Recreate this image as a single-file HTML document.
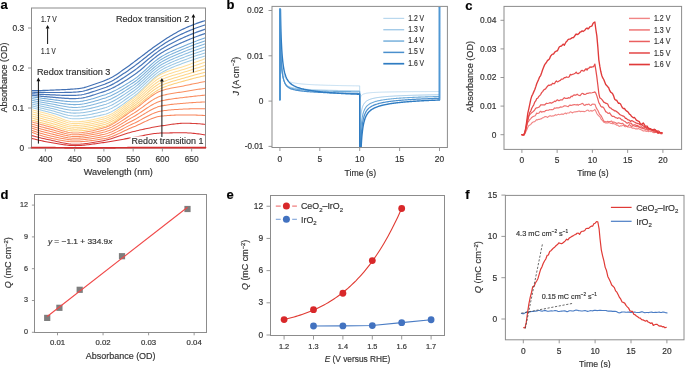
<!DOCTYPE html>
<html><head><meta charset="utf-8"><style>
html,body{margin:0;padding:0;background:#fff;}
svg{display:block;}
text{font-family:"Liberation Sans",sans-serif;fill:#333;stroke:#333;stroke-width:0.18px;}
.g{opacity:0.999;}
</style></head><body>
<svg width="685" height="368" viewBox="0 0 685 368">
<rect width="685" height="368" fill="#fff"/>
<g class="g">
<text x="0.40" y="9.20" font-size="13" style="fill:#000;stroke:#000" font-weight="bold">a</text>
<text x="226.60" y="9.20" font-size="13" style="fill:#000;stroke:#000" font-weight="bold">b</text>
<text x="465.30" y="9.70" font-size="13" style="fill:#000;stroke:#000" font-weight="bold">c</text>
<text x="0.40" y="198.60" font-size="13" style="fill:#000;stroke:#000" font-weight="bold">d</text>
<text x="226.60" y="198.60" font-size="13" style="fill:#000;stroke:#000" font-weight="bold">e</text>
<text x="465.30" y="198.60" font-size="13" style="fill:#000;stroke:#000" font-weight="bold">f</text>
<clipPath id="ca"><rect x="31.5" y="8.0" width="174.00" height="140.00"/></clipPath>
<g clip-path="url(#ca)">
<polyline points="31.50,90.70 32.96,90.69 34.42,90.67 35.89,90.64 37.35,90.61 38.81,90.58 40.27,90.54 41.74,90.50 43.20,90.46 44.66,90.41 46.12,90.36 47.58,90.31 49.05,90.26 50.51,90.20 51.97,90.14 53.43,90.08 54.89,90.02 56.36,89.96 57.82,89.90 59.28,89.83 60.74,89.77 62.21,89.70 63.67,89.63 65.13,89.56 66.59,89.48 68.05,89.40 69.52,89.31 70.98,89.21 72.44,89.11 73.90,89.00 75.37,88.87 76.83,88.74 78.29,88.59 79.75,88.43 81.21,88.23 82.68,87.95 84.14,87.60 85.60,87.20 87.06,86.74 88.53,86.26 89.99,85.75 91.45,85.23 92.91,84.72 94.37,84.21 95.84,83.72 97.30,83.24 98.76,82.74 100.22,82.24 101.68,81.72 103.15,81.19 104.61,80.63 106.07,80.04 107.53,79.42 109.00,78.77 110.46,78.08 111.92,77.31 113.38,76.48 114.84,75.59 116.31,74.64 117.77,73.66 119.23,72.65 120.69,71.63 122.16,70.59 123.62,69.56 125.08,68.54 126.54,67.52 128.00,66.47 129.47,65.41 130.93,64.33 132.39,63.23 133.85,62.13 135.32,61.02 136.78,59.92 138.24,58.82 139.70,57.72 141.16,56.63 142.63,55.53 144.09,54.42 145.55,53.31 147.01,52.20 148.47,51.09 149.94,49.99 151.40,48.90 152.86,47.83 154.32,46.78 155.79,45.75 157.25,44.72 158.71,43.70 160.17,42.69 161.63,41.68 163.10,40.70 164.56,39.73 166.02,38.77 167.48,37.84 168.95,36.94 170.41,36.06 171.87,35.19 173.33,34.33 174.79,33.49 176.26,32.66 177.72,31.85 179.18,31.06 180.64,30.29 182.11,29.56 183.57,28.86 185.03,28.19 186.49,27.54 187.95,26.91 189.42,26.29 190.88,25.68 192.34,25.08 193.80,24.50 195.26,23.94 196.73,23.40 198.19,22.87 199.65,22.36 201.11,21.88 202.58,21.41 204.04,20.97 205.50,20.56" fill="none" stroke="#4270b4" stroke-width="1.2" stroke-linejoin="round" stroke-linecap="round" />
<polyline points="31.50,92.20 32.96,92.24 34.42,92.28 35.89,92.32 37.35,92.36 38.81,92.39 40.27,92.41 41.74,92.43 43.20,92.45 44.66,92.47 46.12,92.48 47.58,92.49 49.05,92.49 50.51,92.49 51.97,92.49 53.43,92.50 54.89,92.50 56.36,92.50 57.82,92.50 59.28,92.50 60.74,92.50 62.21,92.50 63.67,92.49 65.13,92.47 66.59,92.45 68.05,92.42 69.52,92.38 70.98,92.33 72.44,92.27 73.90,92.20 75.37,92.10 76.83,91.99 78.29,91.86 79.75,91.70 81.21,91.51 82.68,91.24 84.14,90.91 85.60,90.54 87.06,90.11 88.53,89.66 89.99,89.18 91.45,88.69 92.91,88.20 94.37,87.71 95.84,87.23 97.30,86.75 98.76,86.26 100.22,85.76 101.68,85.25 103.15,84.73 104.61,84.20 106.07,83.63 107.53,83.03 109.00,82.40 110.46,81.72 111.92,80.98 113.38,80.19 114.84,79.34 116.31,78.45 117.77,77.52 119.23,76.57 120.69,75.59 122.16,74.61 123.62,73.62 125.08,72.64 126.54,71.65 128.00,70.64 129.47,69.61 130.93,68.57 132.39,67.52 133.85,66.46 135.32,65.37 136.78,64.27 138.24,63.16 139.70,62.03 141.16,60.90 142.63,59.75 144.09,58.59 145.55,57.42 147.01,56.25 148.47,55.09 149.94,53.93 151.40,52.78 152.86,51.66 154.32,50.56 155.79,49.48 157.25,48.43 158.71,47.39 160.17,46.38 161.63,45.39 163.10,44.44 164.56,43.51 166.02,42.60 167.48,41.71 168.95,40.85 170.41,40.02 171.87,39.20 173.33,38.39 174.79,37.59 176.26,36.81 177.72,36.05 179.18,35.30 180.64,34.57 182.11,33.87 183.57,33.19 185.03,32.53 186.49,31.89 187.95,31.27 189.42,30.65 190.88,30.05 192.34,29.46 193.80,28.88 195.26,28.31 196.73,27.76 198.19,27.23 199.65,26.72 201.11,26.22 202.58,25.74 204.04,25.27 205.50,24.83" fill="none" stroke="#4573b6" stroke-width="1.2" stroke-linejoin="round" stroke-linecap="round" />
<polyline points="31.50,93.69 32.96,93.80 34.42,93.90 35.89,94.00 37.35,94.10 38.81,94.19 40.27,94.28 41.74,94.36 43.20,94.44 44.66,94.52 46.12,94.59 47.58,94.66 49.05,94.72 50.51,94.78 51.97,94.84 53.43,94.91 54.89,94.97 56.36,95.04 57.82,95.11 59.28,95.17 60.74,95.23 62.21,95.29 63.67,95.34 65.13,95.39 66.59,95.42 68.05,95.45 69.52,95.46 70.98,95.45 72.44,95.43 73.90,95.39 75.37,95.34 76.83,95.25 78.29,95.13 79.75,94.98 81.21,94.79 82.68,94.53 84.14,94.23 85.60,93.88 87.06,93.48 88.53,93.06 89.99,92.62 91.45,92.15 92.91,91.68 94.37,91.20 95.84,90.73 97.30,90.26 98.76,89.77 100.22,89.28 101.68,88.79 103.15,88.28 104.61,87.76 106.07,87.22 107.53,86.64 109.00,86.02 110.46,85.36 111.92,84.65 113.38,83.90 114.84,83.09 116.31,82.25 117.77,81.38 119.23,80.48 120.69,79.56 122.16,78.62 123.62,77.68 125.08,76.73 126.54,75.78 128.00,74.81 129.47,73.82 130.93,72.82 132.39,71.81 133.85,70.79 135.32,69.72 136.78,68.63 138.24,67.50 139.70,66.34 141.16,65.17 142.63,63.98 144.09,62.76 145.55,61.54 147.01,60.31 148.47,59.08 149.94,57.87 151.40,56.67 152.86,55.49 154.32,54.34 155.79,53.22 157.25,52.13 158.71,51.08 160.17,50.07 161.63,49.10 163.10,48.18 164.56,47.29 166.02,46.42 167.48,45.58 168.95,44.76 170.41,43.97 171.87,43.20 173.33,42.44 174.79,41.69 176.26,40.96 177.72,40.25 179.18,39.54 180.64,38.85 182.11,38.18 183.57,37.52 185.03,36.88 186.49,36.25 187.95,35.63 189.42,35.02 190.88,34.42 192.34,33.83 193.80,33.25 195.26,32.69 196.73,32.13 198.19,31.59 199.65,31.07 201.11,30.56 202.58,30.06 204.04,29.58 205.50,29.11" fill="none" stroke="#4977b9" stroke-width="1.2" stroke-linejoin="round" stroke-linecap="round" />
<polyline points="31.50,95.19 32.96,95.36 34.42,95.52 35.89,95.69 37.35,95.84 38.81,96.00 40.27,96.15 41.74,96.30 43.20,96.44 44.66,96.57 46.12,96.71 47.58,96.83 49.05,96.95 50.51,97.07 51.97,97.19 53.43,97.32 54.89,97.45 56.36,97.58 57.82,97.71 59.28,97.84 60.74,97.97 62.21,98.09 63.67,98.20 65.13,98.30 66.59,98.39 68.05,98.47 69.52,98.53 70.98,98.57 72.44,98.59 73.90,98.59 75.37,98.57 76.83,98.50 78.29,98.40 79.75,98.25 81.21,98.06 82.68,97.83 84.14,97.54 85.60,97.22 87.06,96.85 88.53,96.46 89.99,96.05 91.45,95.61 92.91,95.16 94.37,94.70 95.84,94.24 97.30,93.77 98.76,93.29 100.22,92.80 101.68,92.32 103.15,91.83 104.61,91.33 106.07,90.81 107.53,90.24 109.00,89.64 110.46,89.01 111.92,88.33 113.38,87.60 114.84,86.85 116.31,86.05 117.77,85.23 119.23,84.39 120.69,83.52 122.16,82.63 123.62,81.74 125.08,80.83 126.54,79.91 128.00,78.97 129.47,78.02 130.93,77.07 132.39,76.10 133.85,75.11 135.32,74.07 136.78,72.98 138.24,71.84 139.70,70.66 141.16,69.44 142.63,68.20 144.09,66.93 145.55,65.65 147.01,64.37 148.47,63.08 149.94,61.81 151.40,60.55 152.86,59.32 154.32,58.11 155.79,56.95 157.25,55.84 158.71,54.77 160.17,53.76 161.63,52.81 163.10,51.92 164.56,51.07 166.02,50.24 167.48,49.45 168.95,48.68 170.41,47.93 171.87,47.21 173.33,46.49 174.79,45.80 176.26,45.12 177.72,44.44 179.18,43.78 180.64,43.13 182.11,42.49 183.57,41.85 185.03,41.22 186.49,40.60 187.95,39.99 189.42,39.38 190.88,38.79 192.34,38.20 193.80,37.63 195.26,37.06 196.73,36.50 198.19,35.95 199.65,35.42 201.11,34.89 202.58,34.38 204.04,33.88 205.50,33.39" fill="none" stroke="#4c7abb" stroke-width="1.2" stroke-linejoin="round" stroke-linecap="round" />
<polyline points="31.50,96.68 32.96,96.92 34.42,97.14 35.89,97.37 37.35,97.59 38.81,97.81 40.27,98.02 41.74,98.23 43.20,98.43 44.66,98.63 46.12,98.82 47.58,99.01 49.05,99.19 50.51,99.36 51.97,99.54 53.43,99.73 54.89,99.92 56.36,100.12 57.82,100.32 59.28,100.51 60.74,100.70 62.21,100.88 63.67,101.06 65.13,101.22 66.59,101.36 68.05,101.49 69.52,101.60 70.98,101.69 72.44,101.75 73.90,101.79 75.37,101.80 76.83,101.76 78.29,101.67 79.75,101.53 81.21,101.34 82.68,101.12 84.14,100.85 85.60,100.56 87.06,100.22 88.53,99.86 89.99,99.48 91.45,99.07 92.91,98.64 94.37,98.20 95.84,97.74 97.30,97.28 98.76,96.80 100.22,96.33 101.68,95.85 103.15,95.37 104.61,94.90 106.07,94.40 107.53,93.85 109.00,93.27 110.46,92.65 111.92,92.00 113.38,91.31 114.84,90.60 116.31,89.86 117.77,89.09 119.23,88.30 120.69,87.48 122.16,86.65 123.62,85.79 125.08,84.92 126.54,84.04 128.00,83.14 129.47,82.23 130.93,81.31 132.39,80.39 133.85,79.44 135.32,78.42 136.78,77.33 138.24,76.18 139.70,74.97 141.16,73.71 142.63,72.42 144.09,71.10 145.55,69.77 147.01,68.42 148.47,67.08 149.94,65.75 151.40,64.43 152.86,63.14 154.32,61.89 155.79,60.69 157.25,59.54 158.71,58.46 160.17,57.45 161.63,56.52 163.10,55.67 164.56,54.85 166.02,54.07 167.48,53.32 168.95,52.59 170.41,51.89 171.87,51.21 173.33,50.55 174.79,49.90 176.26,49.27 177.72,48.64 179.18,48.03 180.64,47.41 182.11,46.80 183.57,46.18 185.03,45.57 186.49,44.95 187.95,44.35 189.42,43.75 190.88,43.16 192.34,42.58 193.80,42.00 195.26,41.43 196.73,40.87 198.19,40.32 199.65,39.77 201.11,39.23 202.58,38.70 204.04,38.18 205.50,37.67" fill="none" stroke="#72aad8" stroke-width="1.05" stroke-linejoin="round" stroke-linecap="round" />
<polyline points="31.50,98.50 32.96,98.76 34.42,99.01 35.89,99.26 37.35,99.51 38.81,99.75 40.27,99.99 41.74,100.23 43.20,100.46 44.66,100.69 46.12,100.92 47.58,101.13 49.05,101.35 50.51,101.56 51.97,101.78 53.43,102.01 54.89,102.25 56.36,102.49 57.82,102.74 59.28,102.98 60.74,103.22 62.21,103.46 63.67,103.68 65.13,103.88 66.59,104.07 68.05,104.24 69.52,104.38 70.98,104.49 72.44,104.57 73.90,104.62 75.37,104.63 76.83,104.59 78.29,104.51 79.75,104.38 81.21,104.21 82.68,104.00 84.14,103.76 85.60,103.48 87.06,103.17 88.53,102.83 89.99,102.47 91.45,102.09 92.91,101.69 94.37,101.27 95.84,100.84 97.30,100.40 98.76,99.95 100.22,99.50 101.68,99.05 103.15,98.60 104.61,98.14 106.07,97.65 107.53,97.11 109.00,96.52 110.46,95.90 111.92,95.23 113.38,94.53 114.84,93.79 116.31,93.03 117.77,92.23 119.23,91.41 120.69,90.56 122.16,89.69 123.62,88.80 125.08,87.90 126.54,86.98 128.00,86.05 129.47,85.12 130.93,84.17 132.39,83.23 133.85,82.27 135.32,81.23 136.78,80.12 138.24,78.95 139.70,77.73 141.16,76.46 142.63,75.16 144.09,73.83 145.55,72.48 147.01,71.13 148.47,69.78 149.94,68.44 151.40,67.11 152.86,65.82 154.32,64.57 155.79,63.36 157.25,62.21 158.71,61.13 160.17,60.12 161.63,59.20 163.10,58.35 164.56,57.54 166.02,56.77 167.48,56.02 168.95,55.31 170.41,54.61 171.87,53.94 173.33,53.29 174.79,52.65 176.26,52.03 177.72,51.41 179.18,50.80 180.64,50.20 182.11,49.60 183.57,49.00 185.03,48.39 186.49,47.79 187.95,47.20 189.42,46.62 190.88,46.04 192.34,45.47 193.80,44.91 195.26,44.36 196.73,43.81 198.19,43.27 199.65,42.75 201.11,42.23 202.58,41.71 204.04,41.21 205.50,40.72" fill="none" stroke="#7ab0da" stroke-width="1.05" stroke-linejoin="round" stroke-linecap="round" />
<polyline points="31.50,100.31 32.96,100.60 34.42,100.88 35.89,101.15 37.35,101.43 38.81,101.70 40.27,101.97 41.74,102.24 43.20,102.50 44.66,102.76 46.12,103.01 47.58,103.26 49.05,103.51 50.51,103.75 51.97,104.01 53.43,104.28 54.89,104.57 56.36,104.86 57.82,105.16 59.28,105.45 60.74,105.75 62.21,106.03 63.67,106.30 65.13,106.55 66.59,106.78 68.05,106.98 69.52,107.15 70.98,107.29 72.44,107.39 73.90,107.45 75.37,107.47 76.83,107.43 78.29,107.35 79.75,107.23 81.21,107.08 82.68,106.88 84.14,106.66 85.60,106.40 87.06,106.11 88.53,105.80 89.99,105.46 91.45,105.11 92.91,104.73 94.37,104.34 95.84,103.94 97.30,103.53 98.76,103.10 100.22,102.68 101.68,102.25 103.15,101.82 104.61,101.38 106.07,100.90 107.53,100.37 109.00,99.78 110.46,99.15 111.92,98.47 113.38,97.75 114.84,96.99 116.31,96.19 117.77,95.37 119.23,94.51 120.69,93.63 122.16,92.73 123.62,91.81 125.08,90.87 126.54,89.93 128.00,88.97 129.47,88.00 130.93,87.04 132.39,86.07 133.85,85.09 135.32,84.04 136.78,82.92 138.24,81.73 139.70,80.49 141.16,79.21 142.63,77.90 144.09,76.55 145.55,75.20 147.01,73.83 148.47,72.47 149.94,71.12 151.40,69.80 152.86,68.50 154.32,67.24 155.79,66.04 157.25,64.89 158.71,63.80 160.17,62.80 161.63,61.88 163.10,61.04 164.56,60.24 166.02,59.47 167.48,58.73 168.95,58.02 170.41,57.33 171.87,56.67 173.33,56.03 174.79,55.40 176.26,54.78 177.72,54.18 179.18,53.58 180.64,52.99 182.11,52.40 183.57,51.81 185.03,51.22 186.49,50.63 187.95,50.06 189.42,49.49 190.88,48.92 192.34,48.37 193.80,47.82 195.26,47.28 196.73,46.75 198.19,46.23 199.65,45.72 201.11,45.22 202.58,44.72 204.04,44.24 205.50,43.76" fill="none" stroke="#82b6dd" stroke-width="1.05" stroke-linejoin="round" stroke-linecap="round" />
<polyline points="31.50,102.13 32.96,102.44 34.42,102.74 35.89,103.05 37.35,103.35 38.81,103.65 40.27,103.95 41.74,104.24 43.20,104.53 44.66,104.82 46.12,105.11 47.58,105.39 49.05,105.67 50.51,105.95 51.97,106.24 53.43,106.56 54.89,106.89 56.36,107.23 57.82,107.58 59.28,107.93 60.74,108.27 62.21,108.60 63.67,108.91 65.13,109.21 66.59,109.48 68.05,109.72 69.52,109.93 70.98,110.09 72.44,110.21 73.90,110.28 75.37,110.30 76.83,110.27 78.29,110.20 79.75,110.09 81.21,109.94 82.68,109.76 84.14,109.56 85.60,109.32 87.06,109.05 88.53,108.77 89.99,108.46 91.45,108.13 92.91,107.78 94.37,107.41 95.84,107.04 97.30,106.65 98.76,106.26 100.22,105.85 101.68,105.45 103.15,105.04 104.61,104.62 106.07,104.16 107.53,103.63 109.00,103.04 110.46,102.40 111.92,101.70 113.38,100.96 114.84,100.18 116.31,99.36 117.77,98.51 119.23,97.62 120.69,96.71 122.16,95.78 123.62,94.82 125.08,93.85 126.54,92.87 128.00,91.88 129.47,90.89 130.93,89.90 132.39,88.91 133.85,87.91 135.32,86.85 136.78,85.71 138.24,84.51 139.70,83.26 141.16,81.96 142.63,80.63 144.09,79.28 145.55,77.91 147.01,76.54 148.47,75.17 149.94,73.81 151.40,72.48 152.86,71.18 154.32,69.92 155.79,68.71 157.25,67.56 158.71,66.48 160.17,65.48 161.63,64.56 163.10,63.73 164.56,62.93 166.02,62.17 167.48,61.44 168.95,60.73 170.41,60.06 171.87,59.40 173.33,58.76 174.79,58.14 176.26,57.54 177.72,56.94 179.18,56.36 180.64,55.78 182.11,55.20 183.57,54.62 185.03,54.04 186.49,53.47 187.95,52.91 189.42,52.35 190.88,51.81 192.34,51.27 193.80,50.73 195.26,50.21 196.73,49.70 198.19,49.19 199.65,48.70 201.11,48.21 202.58,47.73 204.04,47.27 205.50,46.81" fill="none" stroke="#8abce0" stroke-width="1.05" stroke-linejoin="round" stroke-linecap="round" />
<polyline points="31.50,103.94 32.96,104.28 34.42,104.61 35.89,104.94 37.35,105.27 38.81,105.60 40.27,105.92 41.74,106.24 43.20,106.57 44.66,106.89 46.12,107.20 47.58,107.52 49.05,107.83 50.51,108.14 51.97,108.48 53.43,108.84 54.89,109.21 56.36,109.60 57.82,110.00 59.28,110.40 60.74,110.79 62.21,111.17 63.67,111.53 65.13,111.88 66.59,112.19 68.05,112.47 69.52,112.70 70.98,112.89 72.44,113.03 73.90,113.11 75.37,113.13 76.83,113.10 78.29,113.04 79.75,112.94 81.21,112.81 82.68,112.65 84.14,112.46 85.60,112.24 87.06,112.00 88.53,111.73 89.99,111.45 91.45,111.14 92.91,110.82 94.37,110.49 95.84,110.14 97.30,109.78 98.76,109.41 100.22,109.03 101.68,108.65 103.15,108.26 104.61,107.87 106.07,107.41 107.53,106.88 109.00,106.29 110.46,105.64 111.92,104.94 113.38,104.18 114.84,103.38 116.31,102.53 117.77,101.65 119.23,100.73 120.69,99.79 122.16,98.82 123.62,97.83 125.08,96.83 126.54,95.81 128.00,94.80 129.47,93.78 130.93,92.76 132.39,91.75 133.85,90.74 135.32,89.65 136.78,88.50 138.24,87.28 139.70,86.02 141.16,84.71 142.63,83.37 144.09,82.00 145.55,80.63 147.01,79.24 148.47,77.87 149.94,76.50 151.40,75.16 152.86,73.86 154.32,72.59 155.79,71.38 157.25,70.23 158.71,69.15 160.17,68.15 161.63,67.25 163.10,66.42 164.56,65.63 166.02,64.87 167.48,64.15 168.95,63.45 170.41,62.78 171.87,62.13 173.33,61.50 174.79,60.89 176.26,60.29 177.72,59.71 179.18,59.13 180.64,58.57 182.11,58.00 183.57,57.43 185.03,56.87 186.49,56.31 187.95,55.76 189.42,55.22 190.88,54.69 192.34,54.16 193.80,53.65 195.26,53.14 196.73,52.64 198.19,52.15 199.65,51.67 201.11,51.20 202.58,50.74 204.04,50.30 205.50,49.86" fill="none" stroke="#92c1e2" stroke-width="1.05" stroke-linejoin="round" stroke-linecap="round" />
<polyline points="31.50,105.76 32.96,106.12 34.42,106.48 35.89,106.83 37.35,107.19 38.81,107.54 40.27,107.90 41.74,108.25 43.20,108.60 44.66,108.95 46.12,109.30 47.58,109.65 49.05,109.99 50.51,110.34 51.97,110.71 53.43,111.11 54.89,111.54 56.36,111.97 57.82,112.42 59.28,112.87 60.74,113.31 62.21,113.74 63.67,114.15 65.13,114.54 66.59,114.89 68.05,115.21 69.52,115.48 70.98,115.70 72.44,115.85 73.90,115.95 75.37,115.97 76.83,115.94 78.29,115.88 79.75,115.79 81.21,115.68 82.68,115.53 84.14,115.36 85.60,115.16 87.06,114.94 88.53,114.70 89.99,114.44 91.45,114.16 92.91,113.87 94.37,113.56 95.84,113.24 97.30,112.90 98.76,112.56 100.22,112.20 101.68,111.85 103.15,111.48 104.61,111.11 106.07,110.66 107.53,110.14 109.00,109.55 110.46,108.89 111.92,108.17 113.38,107.40 114.84,106.57 116.31,105.70 117.77,104.79 119.23,103.84 120.69,102.86 122.16,101.86 123.62,100.84 125.08,99.80 126.54,98.76 128.00,97.71 129.47,96.66 130.93,95.62 132.39,94.59 133.85,93.56 135.32,92.46 136.78,91.29 138.24,90.06 139.70,88.78 141.16,87.46 142.63,86.11 144.09,84.73 145.55,83.34 147.01,81.95 148.47,80.56 149.94,79.19 151.40,77.85 152.86,76.54 154.32,75.27 155.79,74.06 157.25,72.91 158.71,71.83 160.17,70.83 161.63,69.93 163.10,69.10 164.56,68.32 166.02,67.57 167.48,66.85 168.95,66.16 170.41,65.50 171.87,64.86 173.33,64.24 174.79,63.64 176.26,63.05 177.72,62.48 179.18,61.91 180.64,61.35 182.11,60.80 183.57,60.25 185.03,59.70 186.49,59.15 187.95,58.62 189.42,58.09 190.88,57.57 192.34,57.06 193.80,56.56 195.26,56.07 196.73,55.58 198.19,55.11 199.65,54.65 201.11,54.20 202.58,53.76 204.04,53.33 205.50,52.91" fill="none" stroke="#9ac7e4" stroke-width="1.05" stroke-linejoin="round" stroke-linecap="round" />
<polyline points="31.50,107.57 32.96,107.96 34.42,108.34 35.89,108.73 37.35,109.11 38.81,109.49 40.27,109.87 41.74,110.25 43.20,110.64 44.66,111.02 46.12,111.40 47.58,111.77 49.05,112.15 50.51,112.53 51.97,112.95 53.43,113.39 54.89,113.86 56.36,114.34 57.82,114.84 59.28,115.34 60.74,115.83 62.21,116.31 63.67,116.77 65.13,117.20 66.59,117.60 68.05,117.95 69.52,118.25 70.98,118.50 72.44,118.67 73.90,118.78 75.37,118.80 76.83,118.78 78.29,118.73 79.75,118.65 81.21,118.54 82.68,118.41 84.14,118.26 85.60,118.08 87.06,117.88 88.53,117.67 89.99,117.43 91.45,117.18 92.91,116.91 94.37,116.63 95.84,116.33 97.30,116.03 98.76,115.71 100.22,115.38 101.68,115.04 103.15,114.70 104.61,114.35 106.07,113.92 107.53,113.40 109.00,112.81 110.46,112.14 111.92,111.41 113.38,110.62 114.84,109.77 116.31,108.87 117.77,107.93 119.23,106.95 120.69,105.94 122.16,104.90 123.62,103.85 125.08,102.78 126.54,101.70 128.00,100.62 129.47,99.55 130.93,98.48 132.39,97.43 133.85,96.38 135.32,95.27 136.78,94.08 138.24,92.84 139.70,91.54 141.16,90.21 142.63,88.84 144.09,87.45 145.55,86.06 147.01,84.65 148.47,83.26 149.94,81.88 151.40,80.53 152.86,79.22 154.32,77.95 155.79,76.73 157.25,75.58 158.71,74.50 160.17,73.51 161.63,72.61 163.10,71.79 164.56,71.01 166.02,70.27 167.48,69.56 168.95,68.88 170.41,68.22 171.87,67.59 173.33,66.98 174.79,66.38 176.26,65.81 177.72,65.24 179.18,64.69 180.64,64.14 182.11,63.60 183.57,63.06 185.03,62.52 186.49,61.99 187.95,61.47 189.42,60.96 190.88,60.45 192.34,59.96 193.80,59.47 195.26,58.99 196.73,58.53 198.19,58.07 199.65,57.62 201.11,57.19 202.58,56.77 204.04,56.35 205.50,55.95" fill="none" stroke="#a2cde7" stroke-width="1.05" stroke-linejoin="round" stroke-linecap="round" />
<polyline points="31.50,109.68 32.96,110.04 34.42,110.40 35.89,110.77 37.35,111.15 38.81,111.52 40.27,111.90 41.74,112.28 43.20,112.67 44.66,113.05 46.12,113.45 47.58,113.84 49.05,114.24 50.51,114.64 51.97,115.09 53.43,115.58 54.89,116.10 56.36,116.65 57.82,117.21 59.28,117.78 60.74,118.35 62.21,118.90 63.67,119.43 65.13,119.93 66.59,120.39 68.05,120.81 69.52,121.16 70.98,121.44 72.44,121.65 73.90,121.77 75.37,121.80 76.83,121.77 78.29,121.72 79.75,121.63 81.21,121.51 82.68,121.36 84.14,121.19 85.60,120.99 87.06,120.77 88.53,120.53 89.99,120.26 91.45,119.98 92.91,119.68 94.37,119.36 95.84,119.03 97.30,118.69 98.76,118.34 100.22,117.97 101.68,117.60 103.15,117.22 104.61,116.83 106.07,116.36 107.53,115.81 109.00,115.17 110.46,114.46 111.92,113.68 113.38,112.84 114.84,111.94 116.31,110.99 117.77,110.00 119.23,108.97 120.69,107.91 122.16,106.82 123.62,105.72 125.08,104.60 126.54,103.48 128.00,102.36 129.47,101.24 130.93,100.13 132.39,99.05 133.85,97.96 135.32,96.80 136.78,95.57 138.24,94.27 139.70,92.92 141.16,91.53 142.63,90.11 144.09,88.67 145.55,87.22 147.01,85.77 148.47,84.34 149.94,82.94 151.40,81.57 152.86,80.25 154.32,78.99 155.79,77.80 157.25,76.69 158.71,75.68 160.17,74.77 161.63,73.98 163.10,73.29 164.56,72.66 166.02,72.07 167.48,71.52 168.95,71.00 170.41,70.51 171.87,70.05 173.33,69.60 174.79,69.16 176.26,68.73 177.72,68.29 179.18,67.86 180.64,67.41 182.11,66.94 183.57,66.45 185.03,65.94 186.49,65.43 187.95,64.91 189.42,64.39 190.88,63.87 192.34,63.35 193.80,62.83 195.26,62.30 196.73,61.77 198.19,61.25 199.65,60.71 201.11,60.18 202.58,59.65 204.04,59.11 205.50,58.57" fill="none" stroke="#fedf9c" stroke-width="1.05" stroke-linejoin="round" stroke-linecap="round" />
<polyline points="31.50,111.73 32.96,112.11 34.42,112.48 35.89,112.86 37.35,113.24 38.81,113.62 40.27,114.01 41.74,114.39 43.20,114.78 44.66,115.17 46.12,115.56 47.58,115.95 49.05,116.34 50.51,116.74 51.97,117.18 53.43,117.65 54.89,118.16 56.36,118.69 57.82,119.24 59.28,119.78 60.74,120.33 62.21,120.86 63.67,121.37 65.13,121.85 66.59,122.30 68.05,122.69 69.52,123.03 70.98,123.30 72.44,123.50 73.90,123.61 75.37,123.64 76.83,123.61 78.29,123.56 79.75,123.47 81.21,123.35 82.68,123.21 84.14,123.04 85.60,122.84 87.06,122.62 88.53,122.38 89.99,122.12 91.45,121.84 92.91,121.55 94.37,121.24 95.84,120.91 97.30,120.57 98.76,120.22 100.22,119.86 101.68,119.49 103.15,119.12 104.61,118.73 106.07,118.27 107.53,117.71 109.00,117.08 110.46,116.37 111.92,115.59 113.38,114.75 114.84,113.85 116.31,112.90 117.77,111.91 119.23,110.88 120.69,109.82 122.16,108.74 123.62,107.64 125.08,106.53 126.54,105.42 128.00,104.30 129.47,103.20 130.93,102.11 132.39,101.04 133.85,99.98 135.32,98.84 136.78,97.64 138.24,96.39 139.70,95.08 141.16,93.73 142.63,92.36 144.09,90.97 145.55,89.58 147.01,88.19 148.47,86.81 149.94,85.46 151.40,84.15 152.86,82.88 154.32,81.67 155.79,80.52 157.25,79.45 158.71,78.47 160.17,77.59 161.63,76.82 163.10,76.14 164.56,75.51 166.02,74.93 167.48,74.39 168.95,73.87 170.41,73.39 171.87,72.92 173.33,72.48 174.79,72.04 176.26,71.61 177.72,71.18 179.18,70.75 180.64,70.31 182.11,69.86 183.57,69.38 185.03,68.89 186.49,68.40 187.95,67.91 189.42,67.41 190.88,66.92 192.34,66.43 193.80,65.93 195.26,65.44 196.73,64.94 198.19,64.45 199.65,63.95 201.11,63.46 202.58,62.96 204.04,62.46 205.50,61.97" fill="none" stroke="#fedc95" stroke-width="1.05" stroke-linejoin="round" stroke-linecap="round" />
<polyline points="31.50,113.79 32.96,114.18 34.42,114.56 35.89,114.95 37.35,115.34 38.81,115.72 40.27,116.11 41.74,116.50 43.20,116.89 44.66,117.28 46.12,117.67 47.58,118.06 49.05,118.45 50.51,118.84 51.97,119.27 53.43,119.73 54.89,120.22 56.36,120.74 57.82,121.26 59.28,121.79 60.74,122.31 62.21,122.82 63.67,123.31 65.13,123.77 66.59,124.20 68.05,124.57 69.52,124.90 70.98,125.16 72.44,125.34 73.90,125.45 75.37,125.48 76.83,125.45 78.29,125.40 79.75,125.31 81.21,125.20 82.68,125.05 84.14,124.89 85.60,124.69 87.06,124.48 88.53,124.24 89.99,123.98 91.45,123.71 92.91,123.42 94.37,123.11 95.84,122.79 97.30,122.45 98.76,122.11 100.22,121.75 101.68,121.39 103.15,121.02 104.61,120.64 106.07,120.17 107.53,119.62 109.00,118.99 110.46,118.28 111.92,117.50 113.38,116.66 114.84,115.76 116.31,114.81 117.77,113.82 119.23,112.79 120.69,111.74 122.16,110.66 123.62,109.57 125.08,108.46 126.54,107.36 128.00,106.25 129.47,105.16 130.93,104.08 132.39,103.03 133.85,101.99 135.32,100.88 136.78,99.72 138.24,98.50 139.70,97.24 141.16,95.94 142.63,94.62 144.09,93.28 145.55,91.94 147.01,90.61 148.47,89.29 149.94,87.99 151.40,86.73 152.86,85.51 154.32,84.34 155.79,83.24 157.25,82.21 158.71,81.26 160.17,80.41 161.63,79.65 163.10,78.99 164.56,78.37 166.02,77.80 167.48,77.26 168.95,76.75 170.41,76.26 171.87,75.80 173.33,75.35 174.79,74.92 176.26,74.49 177.72,74.07 179.18,73.65 180.64,73.22 182.11,72.78 183.57,72.32 185.03,71.85 186.49,71.38 187.95,70.91 189.42,70.44 190.88,69.97 192.34,69.50 193.80,69.04 195.26,68.57 196.73,68.11 198.19,67.65 199.65,67.19 201.11,66.73 202.58,66.27 204.04,65.82 205.50,65.36" fill="none" stroke="#fed98e" stroke-width="1.05" stroke-linejoin="round" stroke-linecap="round" />
<polyline points="31.50,115.85 32.96,116.25 34.42,116.64 35.89,117.04 37.35,117.43 38.81,117.82 40.27,118.21 41.74,118.61 43.20,119.00 44.66,119.39 46.12,119.77 47.58,120.16 49.05,120.55 50.51,120.94 51.97,121.36 53.43,121.81 54.89,122.29 56.36,122.78 57.82,123.29 59.28,123.79 60.74,124.30 62.21,124.79 63.67,125.26 65.13,125.69 66.59,126.10 68.05,126.46 69.52,126.76 70.98,127.01 72.44,127.19 73.90,127.30 75.37,127.32 76.83,127.29 78.29,127.24 79.75,127.15 81.21,127.04 82.68,126.90 84.14,126.73 85.60,126.54 87.06,126.33 88.53,126.10 89.99,125.84 91.45,125.57 92.91,125.28 94.37,124.98 95.84,124.66 97.30,124.33 98.76,123.99 100.22,123.64 101.68,123.28 103.15,122.92 104.61,122.54 106.07,122.08 107.53,121.53 109.00,120.89 110.46,120.19 111.92,119.41 113.38,118.56 114.84,117.67 116.31,116.72 117.77,115.73 119.23,114.71 120.69,113.65 122.16,112.58 123.62,111.49 125.08,110.39 126.54,109.29 128.00,108.20 129.47,107.12 130.93,106.06 132.39,105.02 133.85,104.00 135.32,102.93 136.78,101.79 138.24,100.61 139.70,99.39 141.16,98.14 142.63,96.87 144.09,95.59 145.55,94.30 147.01,93.02 148.47,91.76 149.94,90.52 151.40,89.31 152.86,88.14 154.32,87.02 155.79,85.96 157.25,84.97 158.71,84.05 160.17,83.22 161.63,82.49 163.10,81.84 164.56,81.23 166.02,80.66 167.48,80.13 168.95,79.62 170.41,79.14 171.87,78.68 173.33,78.23 174.79,77.80 176.26,77.38 177.72,76.96 179.18,76.54 180.64,76.12 182.11,75.69 183.57,75.25 185.03,74.80 186.49,74.35 187.95,73.91 189.42,73.46 190.88,73.02 192.34,72.58 193.80,72.14 195.26,71.71 196.73,71.28 198.19,70.85 199.65,70.42 201.11,70.00 202.58,69.58 204.04,69.17 205.50,68.76" fill="none" stroke="#fdd588" stroke-width="1.05" stroke-linejoin="round" stroke-linecap="round" />
<polyline points="31.50,117.91 32.96,118.32 34.42,118.72 35.89,119.12 37.35,119.52 38.81,119.92 40.27,120.32 41.74,120.71 43.20,121.11 44.66,121.50 46.12,121.88 47.58,122.27 49.05,122.65 50.51,123.03 51.97,123.44 53.43,123.88 54.89,124.35 56.36,124.83 57.82,125.31 59.28,125.80 60.74,126.28 62.21,126.75 63.67,127.20 65.13,127.62 66.59,128.00 68.05,128.34 69.52,128.63 70.98,128.87 72.44,129.04 73.90,129.14 75.37,129.16 76.83,129.14 78.29,129.08 79.75,129.00 81.21,128.88 82.68,128.75 84.14,128.58 85.60,128.39 87.06,128.18 88.53,127.95 89.99,127.70 91.45,127.44 92.91,127.15 94.37,126.85 95.84,126.54 97.30,126.21 98.76,125.88 100.22,125.53 101.68,125.17 103.15,124.81 104.61,124.44 106.07,123.98 107.53,123.43 109.00,122.80 110.46,122.09 111.92,121.32 113.38,120.47 114.84,119.58 116.31,118.63 117.77,117.64 119.23,116.62 120.69,115.57 122.16,114.50 123.62,113.41 125.08,112.32 126.54,111.23 128.00,110.15 129.47,109.08 130.93,108.03 132.39,107.01 133.85,106.01 135.32,104.97 136.78,103.87 138.24,102.72 139.70,101.55 141.16,100.35 142.63,99.13 144.09,97.90 145.55,96.67 147.01,95.44 148.47,94.23 149.94,93.04 151.40,91.89 152.86,90.77 154.32,89.70 155.79,88.68 157.25,87.73 158.71,86.84 160.17,86.04 161.63,85.32 163.10,84.69 164.56,84.09 166.02,83.53 167.48,83.00 168.95,82.49 170.41,82.01 171.87,81.55 173.33,81.11 174.79,80.68 176.26,80.26 177.72,79.85 179.18,79.44 180.64,79.03 182.11,78.61 183.57,78.19 185.03,77.76 186.49,77.33 187.95,76.90 189.42,76.48 190.88,76.07 192.34,75.66 193.80,75.25 195.26,74.84 196.73,74.45 198.19,74.05 199.65,73.66 201.11,73.28 202.58,72.90 204.04,72.52 205.50,72.15" fill="none" stroke="#fdd281" stroke-width="1.05" stroke-linejoin="round" stroke-linecap="round" />
<polyline points="31.50,119.97 32.96,120.39 34.42,120.80 35.89,121.21 37.35,121.62 38.81,122.02 40.27,122.42 41.74,122.82 43.20,123.22 44.66,123.61 46.12,123.99 47.58,124.38 49.05,124.76 50.51,125.13 51.97,125.53 53.43,125.96 54.89,126.41 56.36,126.87 57.82,127.34 59.28,127.81 60.74,128.27 62.21,128.71 63.67,129.14 65.13,129.54 66.59,129.90 68.05,130.22 69.52,130.50 70.98,130.72 72.44,130.88 73.90,130.98 75.37,131.00 76.83,130.98 78.29,130.92 79.75,130.84 81.21,130.73 82.68,130.59 84.14,130.43 85.60,130.25 87.06,130.04 88.53,129.81 89.99,129.56 91.45,129.30 92.91,129.02 94.37,128.72 95.84,128.41 97.30,128.09 98.76,127.76 100.22,127.42 101.68,127.07 103.15,126.71 104.61,126.34 106.07,125.89 107.53,125.34 109.00,124.71 110.46,124.00 111.92,123.22 113.38,122.38 114.84,121.49 116.31,120.54 117.77,119.55 119.23,118.53 120.69,117.48 122.16,116.42 123.62,115.34 125.08,114.25 126.54,113.17 128.00,112.09 129.47,111.04 130.93,110.01 132.39,109.01 133.85,108.03 135.32,107.01 136.78,105.94 138.24,104.84 139.70,103.71 141.16,102.55 142.63,101.38 144.09,100.21 145.55,99.03 147.01,97.86 148.47,96.70 149.94,95.57 151.40,94.46 152.86,93.40 154.32,92.37 155.79,91.40 157.25,90.48 158.71,89.63 160.17,88.86 161.63,88.16 163.10,87.54 164.56,86.95 166.02,86.39 167.48,85.87 168.95,85.37 170.41,84.89 171.87,84.43 173.33,83.99 174.79,83.56 176.26,83.15 177.72,82.74 179.18,82.33 180.64,81.93 182.11,81.53 183.57,81.12 185.03,80.71 186.49,80.30 187.95,79.90 189.42,79.51 190.88,79.12 192.34,78.73 193.80,78.35 195.26,77.98 196.73,77.61 198.19,77.25 199.65,76.90 201.11,76.55 202.58,76.21 204.04,75.87 205.50,75.54" fill="none" stroke="#fdcf7a" stroke-width="1.05" stroke-linejoin="round" stroke-linecap="round" />
<polyline points="31.50,121.87 32.96,122.29 34.42,122.70 35.89,123.11 37.35,123.51 38.81,123.91 40.27,124.32 41.74,124.71 43.20,125.11 44.66,125.50 46.12,125.89 47.58,126.27 49.05,126.65 50.51,127.03 51.97,127.44 53.43,127.87 54.89,128.33 56.36,128.79 57.82,129.27 59.28,129.74 60.74,130.21 62.21,130.67 63.67,131.10 65.13,131.51 66.59,131.88 68.05,132.21 69.52,132.49 70.98,132.72 72.44,132.88 73.90,132.98 75.37,133.00 76.83,132.97 78.29,132.91 79.75,132.81 81.21,132.68 82.68,132.51 84.14,132.32 85.60,132.10 87.06,131.86 88.53,131.59 89.99,131.30 91.45,131.00 92.91,130.67 94.37,130.33 95.84,129.97 97.30,129.60 98.76,129.22 100.22,128.83 101.68,128.44 103.15,128.04 104.61,127.62 106.07,127.14 107.53,126.57 109.00,125.93 110.46,125.22 111.92,124.45 113.38,123.62 114.84,122.74 116.31,121.82 117.77,120.86 119.23,119.87 120.69,118.86 122.16,117.83 123.62,116.79 125.08,115.75 126.54,114.71 128.00,113.67 129.47,112.66 130.93,111.66 132.39,110.69 133.85,109.74 135.32,108.74 136.78,107.69 138.24,106.59 139.70,105.46 141.16,104.30 142.63,103.13 144.09,101.95 145.55,100.78 147.01,99.61 148.47,98.47 149.94,97.36 151.40,96.28 152.86,95.26 154.32,94.29 155.79,93.39 157.25,92.56 158.71,91.82 160.17,91.17 161.63,90.62 163.10,90.16 164.56,89.74 166.02,89.36 167.48,89.00 168.95,88.67 170.41,88.36 171.87,88.07 173.33,87.79 174.79,87.52 176.26,87.25 177.72,86.99 179.18,86.73 180.64,86.46 182.11,86.18 183.57,85.89 185.03,85.59 186.49,85.28 187.95,84.98 189.42,84.68 190.88,84.38 192.34,84.08 193.80,83.78 195.26,83.49 196.73,83.19 198.19,82.90 199.65,82.60 201.11,82.31 202.58,82.02 204.04,81.73 205.50,81.44" fill="none" stroke="#fb9262" stroke-width="1.05" stroke-linejoin="round" stroke-linecap="round" />
<polyline points="31.50,123.95 32.96,124.39 34.42,124.83 35.89,125.26 37.35,125.69 38.81,126.11 40.27,126.53 41.74,126.94 43.20,127.34 44.66,127.74 46.12,128.13 47.58,128.51 49.05,128.88 50.51,129.25 51.97,129.63 53.43,130.04 54.89,130.47 56.36,130.90 57.82,131.35 59.28,131.78 60.74,132.22 62.21,132.63 63.67,133.03 65.13,133.40 66.59,133.74 68.05,134.04 69.52,134.30 70.98,134.50 72.44,134.65 73.90,134.74 75.37,134.76 76.83,134.73 78.29,134.67 79.75,134.58 81.21,134.46 82.68,134.31 84.14,134.14 85.60,133.94 87.06,133.71 88.53,133.47 89.99,133.20 91.45,132.92 92.91,132.62 94.37,132.31 95.84,131.98 97.30,131.64 98.76,131.29 100.22,130.93 101.68,130.57 103.15,130.20 104.61,129.82 106.07,129.37 107.53,128.84 109.00,128.24 110.46,127.58 111.92,126.86 113.38,126.08 114.84,125.26 116.31,124.39 117.77,123.50 119.23,122.57 120.69,121.63 122.16,120.66 123.62,119.69 125.08,118.72 126.54,117.75 128.00,116.79 129.47,115.84 130.93,114.92 132.39,114.02 133.85,113.15 135.32,112.22 136.78,111.25 138.24,110.24 139.70,109.19 141.16,108.13 142.63,107.05 144.09,105.97 145.55,104.89 147.01,103.82 148.47,102.78 149.94,101.76 151.40,100.78 152.86,99.85 154.32,98.97 155.79,98.16 157.25,97.41 158.71,96.75 160.17,96.18 161.63,95.70 163.10,95.31 164.56,94.95 166.02,94.62 167.48,94.31 168.95,94.03 170.41,93.76 171.87,93.51 173.33,93.27 174.79,93.04 176.26,92.81 177.72,92.59 179.18,92.37 180.64,92.15 182.11,91.93 183.57,91.69 185.03,91.45 186.49,91.21 187.95,90.97 189.42,90.73 190.88,90.50 192.34,90.26 193.80,90.03 195.26,89.80 196.73,89.58 198.19,89.35 199.65,89.13 201.11,88.91 202.58,88.69 204.04,88.48 205.50,88.27" fill="none" stroke="#fa8f60" stroke-width="1.05" stroke-linejoin="round" stroke-linecap="round" />
<polyline points="31.50,126.03 32.96,126.49 34.42,126.96 35.89,127.41 37.35,127.86 38.81,128.30 40.27,128.74 41.74,129.16 43.20,129.57 44.66,129.98 46.12,130.37 47.58,130.75 49.05,131.11 50.51,131.46 51.97,131.83 53.43,132.21 54.89,132.61 56.36,133.01 57.82,133.42 59.28,133.82 60.74,134.22 62.21,134.60 63.67,134.96 65.13,135.30 66.59,135.60 68.05,135.87 69.52,136.10 70.98,136.29 72.44,136.42 73.90,136.50 75.37,136.52 76.83,136.50 78.29,136.44 79.75,136.36 81.21,136.25 82.68,136.11 84.14,135.95 85.60,135.77 87.06,135.57 88.53,135.35 89.99,135.10 91.45,134.85 92.91,134.57 94.37,134.28 95.84,133.99 97.30,133.68 98.76,133.36 100.22,133.03 101.68,132.70 103.15,132.36 104.61,132.01 106.07,131.60 107.53,131.11 109.00,130.55 110.46,129.94 111.92,129.26 113.38,128.54 114.84,127.77 116.31,126.97 117.77,126.13 119.23,125.27 120.69,124.39 122.16,123.49 123.62,122.59 125.08,121.69 126.54,120.79 128.00,119.90 129.47,119.03 130.93,118.17 132.39,117.35 133.85,116.55 135.32,115.70 136.78,114.81 138.24,113.89 139.70,112.93 141.16,111.96 142.63,110.98 144.09,109.99 145.55,109.00 147.01,108.03 148.47,107.08 149.94,106.16 151.40,105.28 152.86,104.44 154.32,103.65 155.79,102.92 157.25,102.27 158.71,101.68 160.17,101.19 161.63,100.79 163.10,100.46 164.56,100.16 166.02,99.88 167.48,99.63 168.95,99.39 170.41,99.16 171.87,98.95 173.33,98.75 174.79,98.56 176.26,98.38 177.72,98.20 179.18,98.02 180.64,97.85 182.11,97.67 183.57,97.49 185.03,97.31 186.49,97.13 187.95,96.96 189.42,96.78 190.88,96.61 192.34,96.44 193.80,96.28 195.26,96.12 196.73,95.96 198.19,95.81 199.65,95.66 201.11,95.51 202.58,95.37 204.04,95.23 205.50,95.10" fill="none" stroke="#fa8c5f" stroke-width="1.05" stroke-linejoin="round" stroke-linecap="round" />
<polyline points="31.50,128.11 32.96,128.60 34.42,129.09 35.89,129.57 37.35,130.04 38.81,130.50 40.27,130.95 41.74,131.38 43.20,131.81 44.66,132.22 46.12,132.61 47.58,132.98 49.05,133.34 50.51,133.68 51.97,134.02 53.43,134.38 54.89,134.75 56.36,135.13 57.82,135.50 59.28,135.86 60.74,136.22 62.21,136.56 63.67,136.89 65.13,137.19 66.59,137.46 68.05,137.71 69.52,137.91 70.98,138.08 72.44,138.20 73.90,138.26 75.37,138.28 76.83,138.26 78.29,138.21 79.75,138.14 81.21,138.04 82.68,137.91 84.14,137.77 85.60,137.61 87.06,137.42 88.53,137.22 89.99,137.00 91.45,136.77 92.91,136.52 94.37,136.26 95.84,135.99 97.30,135.71 98.76,135.42 100.22,135.13 101.68,134.83 103.15,134.52 104.61,134.20 106.07,133.83 107.53,133.38 109.00,132.86 110.46,132.29 111.92,131.67 113.38,131.00 114.84,130.29 116.31,129.54 117.77,128.77 119.23,127.97 120.69,127.15 122.16,126.33 123.62,125.49 125.08,124.66 126.54,123.83 128.00,123.01 129.47,122.21 130.93,121.43 132.39,120.68 133.85,119.95 135.32,119.18 136.78,118.38 138.24,117.54 139.70,116.67 141.16,115.79 142.63,114.90 144.09,114.01 145.55,113.12 147.01,112.24 148.47,111.39 149.94,110.56 151.40,109.77 152.86,109.03 154.32,108.33 155.79,107.69 157.25,107.12 158.71,106.62 160.17,106.20 161.63,105.87 163.10,105.61 164.56,105.37 166.02,105.15 167.48,104.94 168.95,104.75 170.41,104.56 171.87,104.39 173.33,104.23 174.79,104.08 176.26,103.94 177.72,103.80 179.18,103.67 180.64,103.54 182.11,103.42 183.57,103.30 185.03,103.18 186.49,103.06 187.95,102.94 189.42,102.83 190.88,102.73 192.34,102.62 193.80,102.53 195.26,102.43 196.73,102.35 198.19,102.26 199.65,102.18 201.11,102.11 202.58,102.04 204.04,101.98 205.50,101.93" fill="none" stroke="#f98a5d" stroke-width="1.05" stroke-linejoin="round" stroke-linecap="round" />
<polyline points="31.50,130.18 32.96,130.70 34.42,131.22 35.89,131.72 37.35,132.21 38.81,132.69 40.27,133.16 41.74,133.61 43.20,134.04 44.66,134.46 46.12,134.85 47.58,135.22 49.05,135.57 50.51,135.89 51.97,136.22 53.43,136.55 54.89,136.89 56.36,137.24 57.82,137.57 59.28,137.90 60.74,138.22 62.21,138.53 63.67,138.82 65.13,139.09 66.59,139.33 68.05,139.54 69.52,139.72 70.98,139.86 72.44,139.97 73.90,140.03 75.37,140.04 76.83,140.02 78.29,139.98 79.75,139.91 81.21,139.82 82.68,139.71 84.14,139.59 85.60,139.44 87.06,139.28 88.53,139.10 89.99,138.90 91.45,138.70 92.91,138.48 94.37,138.24 95.84,138.00 97.30,137.75 98.76,137.49 100.22,137.23 101.68,136.96 103.15,136.68 104.61,136.40 106.07,136.05 107.53,135.65 109.00,135.18 110.46,134.65 111.92,134.08 113.38,133.46 114.84,132.81 116.31,132.12 117.77,131.40 119.23,130.67 120.69,129.92 122.16,129.16 123.62,128.39 125.08,127.63 126.54,126.87 128.00,126.12 129.47,125.39 130.93,124.69 132.39,124.01 133.85,123.36 135.32,122.67 136.78,121.94 138.24,121.18 139.70,120.41 141.16,119.62 142.63,118.82 144.09,118.02 145.55,117.23 147.01,116.45 148.47,115.70 149.94,114.97 151.40,114.27 152.86,113.62 154.32,113.01 155.79,112.46 157.25,111.97 158.71,111.55 160.17,111.21 161.63,110.95 163.10,110.76 164.56,110.58 166.02,110.41 167.48,110.25 168.95,110.10 170.41,109.96 171.87,109.84 173.33,109.72 174.79,109.60 176.26,109.50 177.72,109.40 179.18,109.32 180.64,109.24 182.11,109.16 183.57,109.10 185.03,109.04 186.49,108.98 187.95,108.93 189.42,108.88 190.88,108.84 192.34,108.81 193.80,108.77 195.26,108.75 196.73,108.73 198.19,108.72 199.65,108.71 201.11,108.71 202.58,108.72 204.04,108.73 205.50,108.76" fill="none" stroke="#f9875c" stroke-width="1.05" stroke-linejoin="round" stroke-linecap="round" />
<polyline points="31.50,132.26 32.96,132.81 34.42,133.35 35.89,133.87 37.35,134.39 38.81,134.89 40.27,135.37 41.74,135.83 43.20,136.28 44.66,136.69 46.12,137.09 47.58,137.46 49.05,137.80 50.51,138.11 51.97,138.41 53.43,138.73 54.89,139.04 56.36,139.35 57.82,139.65 59.28,139.94 60.74,140.23 62.21,140.50 63.67,140.75 65.13,140.98 66.59,141.19 68.05,141.37 69.52,141.53 70.98,141.65 72.44,141.74 73.90,141.79 75.37,141.80 76.83,141.78 78.29,141.75 79.75,141.69 81.21,141.61 82.68,141.52 84.14,141.40 85.60,141.27 87.06,141.13 88.53,140.97 89.99,140.80 91.45,140.62 92.91,140.43 94.37,140.22 95.84,140.01 97.30,139.79 98.76,139.56 100.22,139.33 101.68,139.09 103.15,138.84 104.61,138.59 106.07,138.28 107.53,137.91 109.00,137.49 110.46,137.01 111.92,136.49 113.38,135.92 114.84,135.32 116.31,134.69 117.77,134.04 119.23,133.37 120.69,132.68 122.16,131.99 123.62,131.29 125.08,130.59 126.54,129.91 128.00,129.23 129.47,128.58 130.93,127.94 132.39,127.34 133.85,126.76 135.32,126.15 136.78,125.50 138.24,124.83 139.70,124.15 141.16,123.45 142.63,122.74 144.09,122.04 145.55,121.35 147.01,120.66 148.47,120.00 149.94,119.37 151.40,118.77 152.86,118.21 154.32,117.69 155.79,117.23 157.25,116.83 158.71,116.49 160.17,116.22 161.63,116.03 163.10,115.91 164.56,115.79 166.02,115.67 167.48,115.57 168.95,115.46 170.41,115.37 171.87,115.28 173.33,115.20 174.79,115.13 176.26,115.06 177.72,115.01 179.18,114.96 180.64,114.93 182.11,114.91 183.57,114.90 185.03,114.90 186.49,114.91 187.95,114.92 189.42,114.93 190.88,114.96 192.34,114.99 193.80,115.02 195.26,115.06 196.73,115.11 198.19,115.17 199.65,115.24 201.11,115.31 202.58,115.39 204.04,115.48 205.50,115.59" fill="none" stroke="#f8845a" stroke-width="1.05" stroke-linejoin="round" stroke-linecap="round" />
<polyline points="31.50,135.47 32.96,135.87 34.42,136.27 35.89,136.66 37.35,137.04 38.81,137.42 40.27,137.78 41.74,138.14 43.20,138.50 44.66,138.84 46.12,139.17 47.58,139.49 49.05,139.80 50.51,140.10 51.97,140.42 53.43,140.74 54.89,141.08 56.36,141.41 57.82,141.75 59.28,142.09 60.74,142.41 62.21,142.73 63.67,143.02 65.13,143.30 66.59,143.55 68.05,143.77 69.52,143.96 70.98,144.11 72.44,144.22 73.90,144.29 75.37,144.30 76.83,144.28 78.29,144.22 79.75,144.15 81.21,144.04 82.68,143.92 84.14,143.77 85.60,143.60 87.06,143.41 88.53,143.21 89.99,142.99 91.45,142.76 92.91,142.52 94.37,142.26 95.84,142.01 97.30,141.74 98.76,141.47 100.22,141.20 101.68,140.93 103.15,140.66 104.61,140.38 106.07,140.08 107.53,139.73 109.00,139.35 110.46,138.94 111.92,138.51 113.38,138.05 114.84,137.57 116.31,137.08 117.77,136.57 119.23,136.06 120.69,135.55 122.16,135.04 123.62,134.54 125.08,134.04 126.54,133.56 128.00,133.10 129.47,132.65 130.93,132.24 132.39,131.85 133.85,131.49 135.32,131.14 136.78,130.79 138.24,130.45 139.70,130.11 141.16,129.77 142.63,129.44 144.09,129.12 145.55,128.80 147.01,128.49 148.47,128.19 149.94,127.89 151.40,127.60 152.86,127.33 154.32,127.05 155.79,126.79 157.25,126.54 158.71,126.30 160.17,126.07 161.63,125.85 163.10,125.64 164.56,125.42 166.02,125.19 167.48,124.97 168.95,124.74 170.41,124.52 171.87,124.31 173.33,124.11 174.79,123.92 176.26,123.76 177.72,123.61 179.18,123.49 180.64,123.39 182.11,123.33 183.57,123.30 185.03,123.30 186.49,123.31 187.95,123.32 189.42,123.35 190.88,123.38 192.34,123.42 193.80,123.48 195.26,123.54 196.73,123.62 198.19,123.72 199.65,123.83 201.11,123.96 202.58,124.11 204.04,124.28 205.50,124.47" fill="none" stroke="#d8403c" stroke-width="1.05" stroke-linejoin="round" stroke-linecap="round" />
<polyline points="31.50,138.37 32.96,138.75 34.42,139.11 35.89,139.47 37.35,139.82 38.81,140.16 40.27,140.49 41.74,140.82 43.20,141.13 44.66,141.43 46.12,141.71 47.58,141.98 49.05,142.24 50.51,142.48 51.97,142.73 53.43,142.98 54.89,143.24 56.36,143.49 57.82,143.75 59.28,143.99 60.74,144.24 62.21,144.47 63.67,144.68 65.13,144.88 66.59,145.06 68.05,145.22 69.52,145.36 70.98,145.47 72.44,145.54 73.90,145.59 75.37,145.60 76.83,145.58 78.29,145.53 79.75,145.46 81.21,145.37 82.68,145.26 84.14,145.13 85.60,144.98 87.06,144.82 88.53,144.65 89.99,144.47 91.45,144.27 92.91,144.07 94.37,143.86 95.84,143.65 97.30,143.44 98.76,143.23 100.22,143.02 101.68,142.81 103.15,142.61 104.61,142.42 106.07,142.21 107.53,142.00 109.00,141.77 110.46,141.53 111.92,141.29 113.38,141.04 114.84,140.78 116.31,140.52 117.77,140.25 119.23,139.98 120.69,139.71 122.16,139.43 123.62,139.16 125.08,138.89 126.54,138.62 128.00,138.36 129.47,138.10 130.93,137.85 132.39,137.60 133.85,137.36 135.32,137.10 136.78,136.83 138.24,136.55 139.70,136.26 141.16,135.97 142.63,135.68 144.09,135.38 145.55,135.09 147.01,134.81 148.47,134.54 149.94,134.28 151.40,134.03 152.86,133.81 154.32,133.60 155.79,133.42 157.25,133.27 158.71,133.15 160.17,133.06 161.63,133.01 163.10,132.98 164.56,132.96 166.02,132.94 167.48,132.92 168.95,132.90 170.41,132.88 171.87,132.87 173.33,132.85 174.79,132.84 176.26,132.83 177.72,132.82 179.18,132.81 180.64,132.81 182.11,132.80 183.57,132.80 185.03,132.81 186.49,132.84 187.95,132.90 189.42,132.98 190.88,133.09 192.34,133.22 193.80,133.36 195.26,133.52 196.73,133.70 198.19,133.89 199.65,134.09 201.11,134.30 202.58,134.52 204.04,134.74 205.50,134.97" fill="none" stroke="#d63434" stroke-width="1.05" stroke-linejoin="round" stroke-linecap="round" />
</g>
<rect x="31.5" y="8.0" width="174.00" height="140.00" fill="none" stroke="#8c8c8c" stroke-width="1"/>
<polyline points="31.50,147.60 32.96,147.61 34.42,147.62 35.89,147.63 37.35,147.63 38.81,147.64 40.27,147.65 41.74,147.66 43.20,147.67 44.66,147.67 46.12,147.68 47.58,147.69 49.05,147.70 50.51,147.70 51.97,147.71 53.43,147.72 54.89,147.72 56.36,147.73 57.82,147.74 59.28,147.75 60.74,147.76 62.21,147.76 63.67,147.77 65.13,147.78 66.59,147.78 68.05,147.79 69.52,147.79 70.98,147.80 72.44,147.80 73.90,147.80 75.37,147.80 76.83,147.80 78.29,147.80 79.75,147.80 81.21,147.80 82.68,147.80 84.14,147.80 85.60,147.80 87.06,147.80 88.53,147.80 89.99,147.80 91.45,147.80 92.91,147.80 94.37,147.80 95.84,147.80 97.30,147.80 98.76,147.80 100.22,147.80 101.68,147.80 103.15,147.80 104.61,147.80 106.07,147.80 107.53,147.80 109.00,147.79 110.46,147.79 111.92,147.79 113.38,147.78 114.84,147.78 116.31,147.77 117.77,147.77 119.23,147.76 120.69,147.75 122.16,147.75 123.62,147.74 125.08,147.73 126.54,147.73 128.00,147.72 129.47,147.71 130.93,147.71 132.39,147.70 133.85,147.70 135.32,147.69 136.78,147.69 138.24,147.68 139.70,147.67 141.16,147.67 142.63,147.66 144.09,147.65 145.55,147.65 147.01,147.64 148.47,147.63 149.94,147.63 151.40,147.62 152.86,147.62 154.32,147.61 155.79,147.61 157.25,147.60 158.71,147.60 160.17,147.60 161.63,147.60 163.10,147.60 164.56,147.60 166.02,147.60 167.48,147.60 168.95,147.60 170.41,147.60 171.87,147.60 173.33,147.60 174.79,147.60 176.26,147.60 177.72,147.60 179.18,147.60 180.64,147.60 182.11,147.60 183.57,147.60 185.03,147.60 186.49,147.60 187.95,147.60 189.42,147.60 190.88,147.60 192.34,147.60 193.80,147.60 195.26,147.60 196.73,147.60 198.19,147.60 199.65,147.60 201.11,147.60 202.58,147.60 204.04,147.60 205.50,147.60" fill="none" stroke="#d42f2f" stroke-width="1.7" stroke-linejoin="round" stroke-linecap="round" />
<line x1="28.00" y1="148.00" x2="31.50" y2="148.00" stroke="#8c8c8c" stroke-width="0.9" />
<text x="24.20" y="150.90" font-size="8.4" text-anchor="end">0</text>
<line x1="28.00" y1="108.00" x2="31.50" y2="108.00" stroke="#8c8c8c" stroke-width="0.9" />
<text x="24.20" y="110.90" font-size="8.4" text-anchor="end">0.1</text>
<line x1="28.00" y1="68.00" x2="31.50" y2="68.00" stroke="#8c8c8c" stroke-width="0.9" />
<text x="24.20" y="70.90" font-size="8.4" text-anchor="end">0.2</text>
<line x1="28.00" y1="28.00" x2="31.50" y2="28.00" stroke="#8c8c8c" stroke-width="0.9" />
<text x="24.20" y="30.90" font-size="8.4" text-anchor="end">0.3</text>
<line x1="45.40" y1="148.00" x2="45.40" y2="151.50" stroke="#8c8c8c" stroke-width="0.9" />
<text x="45.40" y="161.50" font-size="8.4" text-anchor="middle">400</text>
<line x1="74.65" y1="148.00" x2="74.65" y2="151.50" stroke="#8c8c8c" stroke-width="0.9" />
<text x="74.65" y="161.50" font-size="8.4" text-anchor="middle">450</text>
<line x1="103.90" y1="148.00" x2="103.90" y2="151.50" stroke="#8c8c8c" stroke-width="0.9" />
<text x="103.90" y="161.50" font-size="8.4" text-anchor="middle">500</text>
<line x1="133.15" y1="148.00" x2="133.15" y2="151.50" stroke="#8c8c8c" stroke-width="0.9" />
<text x="133.15" y="161.50" font-size="8.4" text-anchor="middle">550</text>
<line x1="162.40" y1="148.00" x2="162.40" y2="151.50" stroke="#8c8c8c" stroke-width="0.9" />
<text x="162.40" y="161.50" font-size="8.4" text-anchor="middle">600</text>
<line x1="191.65" y1="148.00" x2="191.65" y2="151.50" stroke="#8c8c8c" stroke-width="0.9" />
<text x="191.65" y="161.50" font-size="8.4" text-anchor="middle">650</text>
<text x="118.30" y="175.40" font-size="9.0" text-anchor="middle" textLength="69.20" lengthAdjust="spacingAndGlyphs">Wavelength (nm)</text>
<text transform="translate(7.10,77.55) rotate(-90)" font-size="9.0" text-anchor="middle" textLength="70.00" lengthAdjust="spacingAndGlyphs">Absorbance (OD)</text>
<text x="41.10" y="22.10" font-size="8.4" textLength="15.60" lengthAdjust="spacingAndGlyphs">1.7 V</text>
<line x1="47.60" y1="44.00" x2="47.60" y2="28.30" stroke="#111" stroke-width="1.0" />
<path d="M45.70,28.60 L47.60,25.00 L49.50,28.60 Z" fill="#111"/>
<text x="41.10" y="54.10" font-size="8.4" textLength="14.60" lengthAdjust="spacingAndGlyphs">1.1 V</text>
<text x="37.00" y="75.10" font-size="8.8" textLength="73.40" lengthAdjust="spacingAndGlyphs">Redox transition 3</text>
<line x1="38.40" y1="143.60" x2="38.40" y2="80.90" stroke="#111" stroke-width="1.0" />
<path d="M36.50,81.20 L38.40,77.60 L40.30,81.20 Z" fill="#111"/>
<text x="115.90" y="21.80" font-size="8.8" textLength="73.30" lengthAdjust="spacingAndGlyphs">Redox transition 2</text>
<line x1="193.40" y1="72.40" x2="193.40" y2="17.20" stroke="#111" stroke-width="1.0" />
<path d="M191.50,17.50 L193.40,13.90 L195.30,17.50 Z" fill="#111"/>
<rect x="130.6" y="136.4" width="73.8" height="9.6" fill="#fff"/>
<text x="131.60" y="144.00" font-size="8.8" textLength="71.80" lengthAdjust="spacingAndGlyphs">Redox transition 1</text>
<line x1="161.90" y1="137.00" x2="161.90" y2="81.20" stroke="#111" stroke-width="1.0" />
<path d="M160.00,81.50 L161.90,77.90 L163.80,81.50 Z" fill="#111"/>
<clipPath id="cb"><rect x="272.0" y="6.4" width="175.40" height="141.10"/></clipPath>
<g clip-path="url(#cb)">
<polyline points="279.90,99.74 279.90,9.14 279.92,9.14 279.93,9.14 279.93,9.14 279.93,9.14 279.93,9.14 279.94,9.14 279.94,9.14 279.94,9.14 279.95,9.14 279.95,9.14 279.96,9.14 279.96,9.14 279.97,9.14 279.97,9.14 279.98,9.14 279.99,9.14 280.00,9.14 280.00,9.14 280.01,9.14 280.02,9.14 280.04,10.86 280.05,13.22 280.06,15.49 280.08,17.69 280.09,19.81 280.11,21.87 280.13,23.87 280.15,25.82 280.17,27.71 280.20,29.55 280.22,31.35 280.25,33.11 280.28,34.84 280.32,36.53 280.36,38.20 280.40,39.84 280.44,41.46 280.49,43.06 280.55,44.65 280.60,46.22 280.67,47.79 280.74,49.34 280.81,50.89 280.90,52.44 280.99,53.98 281.09,55.51 281.19,57.04 281.31,58.56 281.44,60.08 281.58,61.58 281.73,63.06 281.89,64.53 282.07,65.97 282.27,67.37 282.49,68.74 282.72,70.07 282.98,71.35 283.25,72.57 283.56,73.72 283.89,74.81 284.05,75.28 284.69,76.85 285.32,78.05 285.96,78.98 286.59,79.71 287.23,80.30 287.86,80.78 288.50,81.17 289.14,81.49 289.77,81.77 290.41,82.01 291.04,82.22 291.68,82.40 292.31,82.57 292.95,82.72 293.59,82.85 294.22,82.98 294.86,83.09 295.49,83.19 296.13,83.29 296.76,83.39 297.40,83.47 298.04,83.55 298.67,83.63 299.31,83.70 299.94,83.77 300.58,83.84 301.21,83.90 301.85,83.96 302.49,84.02 303.12,84.08 303.76,84.13 304.39,84.18 305.03,84.23 305.66,84.28 306.30,84.32 306.94,84.37 307.57,84.41 308.21,84.45 308.84,84.49 309.48,84.53 310.11,84.57 310.75,84.60 311.39,84.64 312.02,84.67 312.66,84.70 313.29,84.73 313.93,84.77 314.56,84.80 315.20,84.83 315.84,84.85 316.47,84.88 317.11,84.91 317.74,84.93 318.38,84.96 319.01,84.99 319.65,85.01 320.29,85.03 320.92,85.06 321.56,85.08 322.19,85.10 322.83,85.12 323.46,85.15 324.10,85.17 324.74,85.19 325.37,85.21 326.01,85.23 326.64,85.25 327.28,85.26 327.91,85.28 328.55,85.30 329.19,85.32 329.82,85.34 330.46,85.35 331.09,85.37 331.73,85.39 332.36,85.40 333.00,85.42 333.64,85.43 334.27,85.45 334.91,85.46 335.54,85.48 336.18,85.49 336.81,85.51 337.45,85.52 338.09,85.53 338.72,85.55 339.36,85.56 339.99,85.57 340.63,85.59 341.26,85.60 341.90,85.61 342.54,85.63 343.17,85.64 343.81,85.65 344.44,85.66 345.08,85.67 345.71,85.68 346.35,85.70 346.99,85.71 347.62,85.72 348.26,85.73 348.89,85.74 349.53,85.75 350.16,85.76 350.80,85.77 351.44,85.78 352.07,85.79 352.71,85.80 353.34,85.81 353.98,85.82 354.61,85.83 355.25,85.84 355.89,85.85 356.52,85.86 357.16,85.87 357.79,85.87 358.43,85.88 359.06,85.89 359.70,85.90 359.70,148.66 359.72,132.14 359.73,130.38 359.73,128.70 359.73,127.09 359.73,125.55 359.74,124.08 359.74,122.66 359.74,121.31 359.75,120.02 359.75,118.78 359.76,117.59 359.76,116.45 359.77,115.36 359.77,114.32 359.78,113.32 359.79,112.36 359.80,111.45 359.80,110.57 359.81,109.73 359.82,108.93 359.84,108.16 359.85,107.42 359.86,106.72 359.88,106.04 359.89,105.39 359.91,104.77 359.93,104.18 359.95,103.61 359.97,103.07 360.00,102.55 360.02,102.05 360.05,101.57 360.08,101.11 360.12,100.67 360.16,100.25 360.20,99.85 360.24,99.47 360.29,99.10 360.35,98.75 360.40,98.41 360.47,98.08 360.54,97.77 360.61,97.48 360.70,97.19 360.79,96.92 360.89,96.66 360.99,96.41 361.11,96.17 361.24,95.94 361.38,95.73 361.53,95.52 361.69,95.31 361.87,95.12 362.07,94.94 362.29,94.76 362.52,94.59 362.78,94.43 363.05,94.28 363.36,94.13 363.69,93.99 363.85,93.92 364.49,93.71 365.12,93.53 365.76,93.38 366.39,93.26 367.03,93.15 367.66,93.05 368.30,92.97 368.94,92.89 369.57,92.82 370.21,92.76 370.84,92.70 371.48,92.65 372.11,92.60 372.75,92.55 373.39,92.51 374.02,92.47 374.66,92.44 375.29,92.40 375.93,92.37 376.56,92.34 377.20,92.31 377.84,92.29 378.47,92.26 379.11,92.24 379.74,92.21 380.38,92.19 381.01,92.17 381.65,92.15 382.29,92.13 382.92,92.11 383.56,92.09 384.19,92.08 384.83,92.06 385.46,92.04 386.10,92.03 386.74,92.01 387.37,92.00 388.01,91.99 388.64,91.97 389.28,91.96 389.91,91.95 390.55,91.94 391.19,91.92 391.82,91.91 392.46,91.90 393.09,91.89 393.73,91.88 394.36,91.87 395.00,91.86 395.64,91.85 396.27,91.84 396.91,91.83 397.54,91.82 398.18,91.82 398.81,91.81 399.45,91.80 400.09,91.79 400.72,91.78 401.36,91.78 401.99,91.77 402.63,91.76 403.26,91.75 403.90,91.75 404.54,91.74 405.17,91.73 405.81,91.73 406.44,91.72 407.08,91.71 407.71,91.71 408.35,91.70 408.99,91.70 409.62,91.69 410.26,91.68 410.89,91.68 411.53,91.67 412.16,91.67 412.80,91.66 413.44,91.66 414.07,91.65 414.71,91.65 415.34,91.64 415.98,91.64 416.61,91.63 417.25,91.63 417.89,91.62 418.52,91.62 419.16,91.61 419.79,91.61 420.43,91.60 421.06,91.60 421.70,91.60 422.34,91.59 422.97,91.59 423.61,91.58 424.24,91.58 424.88,91.58 425.51,91.57 426.15,91.57 426.79,91.56 427.42,91.56 428.06,91.56 428.69,91.55 429.33,91.55 429.96,91.55 430.60,91.54 431.24,91.54 431.87,91.54 432.51,91.53 433.14,91.53 433.78,91.53 434.41,91.52 435.05,91.52 435.69,91.52 436.32,91.51 436.96,91.51 437.59,91.51 438.23,91.51 438.86,91.50 439.50,91.50 439.50,7.33" fill="none" stroke="#b9d8ee" stroke-width="0.9" stroke-linejoin="round" stroke-linecap="round" />
<polyline points="279.90,99.74 279.90,9.14 279.92,9.14 279.93,9.14 279.93,9.14 279.93,9.14 279.93,9.14 279.94,9.14 279.94,9.14 279.94,9.14 279.95,9.14 279.95,9.14 279.96,9.14 279.96,9.14 279.97,9.14 279.97,9.14 279.98,9.14 279.99,9.14 280.00,9.14 280.00,11.61 280.01,14.08 280.02,16.46 280.04,18.76 280.05,20.98 280.06,23.13 280.08,25.20 280.09,27.21 280.11,29.16 280.13,31.06 280.15,32.90 280.17,34.69 280.20,36.44 280.22,38.15 280.25,39.83 280.28,41.47 280.32,43.08 280.36,44.67 280.40,46.24 280.44,47.79 280.49,49.33 280.55,50.85 280.60,52.36 280.67,53.87 280.74,55.37 280.81,56.87 280.90,58.36 280.99,59.85 281.09,61.34 281.19,62.83 281.31,64.31 281.44,65.78 281.58,67.24 281.73,68.69 281.89,70.11 282.07,71.52 282.27,72.89 282.49,74.23 282.72,75.53 282.98,76.77 283.25,77.97 283.56,79.10 283.89,80.16 284.05,80.62 284.69,82.15 285.32,83.32 285.96,84.22 286.59,84.93 287.23,85.50 287.86,85.96 288.50,86.33 289.14,86.64 289.77,86.91 290.41,87.14 291.04,87.34 291.68,87.51 292.31,87.67 292.95,87.81 293.59,87.93 294.22,88.05 294.86,88.16 295.49,88.26 296.13,88.35 296.76,88.44 297.40,88.52 298.04,88.60 298.67,88.67 299.31,88.74 299.94,88.80 300.58,88.86 301.21,88.92 301.85,88.98 302.49,89.04 303.12,89.09 303.76,89.14 304.39,89.19 305.03,89.23 305.66,89.28 306.30,89.32 306.94,89.36 307.57,89.40 308.21,89.44 308.84,89.48 309.48,89.51 310.11,89.55 310.75,89.58 311.39,89.61 312.02,89.64 312.66,89.68 313.29,89.71 313.93,89.73 314.56,89.76 315.20,89.79 315.84,89.82 316.47,89.84 317.11,89.87 317.74,89.89 318.38,89.92 319.01,89.94 319.65,89.96 320.29,89.99 320.92,90.01 321.56,90.03 322.19,90.05 322.83,90.07 323.46,90.09 324.10,90.11 324.74,90.13 325.37,90.15 326.01,90.17 326.64,90.19 327.28,90.20 327.91,90.22 328.55,90.24 329.19,90.25 329.82,90.27 330.46,90.29 331.09,90.30 331.73,90.32 332.36,90.33 333.00,90.35 333.64,90.36 334.27,90.38 334.91,90.39 335.54,90.40 336.18,90.42 336.81,90.43 337.45,90.44 338.09,90.46 338.72,90.47 339.36,90.48 339.99,90.49 340.63,90.51 341.26,90.52 341.90,90.53 342.54,90.54 343.17,90.55 343.81,90.56 344.44,90.58 345.08,90.59 345.71,90.60 346.35,90.61 346.99,90.62 347.62,90.63 348.26,90.64 348.89,90.65 349.53,90.66 350.16,90.67 350.80,90.68 351.44,90.69 352.07,90.70 352.71,90.71 353.34,90.72 353.98,90.72 354.61,90.73 355.25,90.74 355.89,90.75 356.52,90.76 357.16,90.77 357.79,90.78 358.43,90.78 359.06,90.79 359.70,90.80 359.70,148.66 359.72,148.66 359.73,148.66 359.73,148.66 359.73,148.66 359.73,148.66 359.74,148.66 359.74,148.66 359.74,148.66 359.75,148.66 359.75,148.66 359.76,148.66 359.76,148.66 359.77,148.66 359.77,148.66 359.78,148.66 359.79,148.66 359.80,148.66 359.80,148.66 359.81,148.66 359.82,148.66 359.84,148.66 359.85,148.66 359.86,148.66 359.88,148.66 359.89,148.66 359.91,146.56 359.93,144.38 359.95,142.30 359.97,140.29 360.00,138.37 360.02,136.52 360.05,134.74 360.08,133.04 360.12,131.39 360.16,129.81 360.20,128.29 360.24,126.83 360.29,125.42 360.35,124.06 360.40,122.75 360.47,121.48 360.54,120.26 360.61,119.09 360.70,117.95 360.79,116.85 360.89,115.78 360.99,114.75 361.11,113.76 361.24,112.80 361.38,111.87 361.53,110.97 361.69,110.10 361.87,109.26 362.07,108.46 362.29,107.68 362.52,106.94 362.78,106.22 363.05,105.54 363.36,104.89 363.69,104.27 363.85,103.99 364.49,103.06 365.12,102.31 365.76,101.70 366.39,101.18 367.03,100.75 367.66,100.37 368.30,100.04 368.94,99.75 369.57,99.49 370.21,99.25 370.84,99.04 371.48,98.85 372.11,98.67 372.75,98.50 373.39,98.35 374.02,98.21 374.66,98.08 375.29,97.96 375.93,97.84 376.56,97.73 377.20,97.63 377.84,97.53 378.47,97.44 379.11,97.35 379.74,97.27 380.38,97.19 381.01,97.11 381.65,97.04 382.29,96.97 382.92,96.90 383.56,96.84 384.19,96.78 384.83,96.72 385.46,96.66 386.10,96.60 386.74,96.55 387.37,96.50 388.01,96.45 388.64,96.40 389.28,96.36 389.91,96.31 390.55,96.27 391.19,96.23 391.82,96.19 392.46,96.15 393.09,96.11 393.73,96.07 394.36,96.03 395.00,96.00 395.64,95.96 396.27,95.93 396.91,95.90 397.54,95.87 398.18,95.83 398.81,95.80 399.45,95.77 400.09,95.75 400.72,95.72 401.36,95.69 401.99,95.66 402.63,95.64 403.26,95.61 403.90,95.59 404.54,95.56 405.17,95.54 405.81,95.51 406.44,95.49 407.08,95.47 407.71,95.45 408.35,95.42 408.99,95.40 409.62,95.38 410.26,95.36 410.89,95.34 411.53,95.32 412.16,95.30 412.80,95.28 413.44,95.26 414.07,95.25 414.71,95.23 415.34,95.21 415.98,95.19 416.61,95.17 417.25,95.16 417.89,95.14 418.52,95.12 419.16,95.11 419.79,95.09 420.43,95.08 421.06,95.06 421.70,95.05 422.34,95.03 422.97,95.02 423.61,95.00 424.24,94.99 424.88,94.97 425.51,94.96 426.15,94.95 426.79,94.93 427.42,94.92 428.06,94.91 428.69,94.89 429.33,94.88 429.96,94.87 430.60,94.86 431.24,94.84 431.87,94.83 432.51,94.82 433.14,94.81 433.78,94.80 434.41,94.79 435.05,94.78 435.69,94.76 436.32,94.75 436.96,94.74 437.59,94.73 438.23,94.72 438.86,94.71 439.50,94.70 439.50,7.33" fill="none" stroke="#9cc7e6" stroke-width="1.0" stroke-linejoin="round" stroke-linecap="round" />
<polyline points="279.90,99.74 279.90,9.14 279.92,9.14 279.93,9.14 279.93,9.14 279.93,9.14 279.93,9.14 279.94,9.14 279.94,9.14 279.94,9.14 279.95,9.14 279.95,9.14 279.96,9.14 279.96,9.14 279.97,9.14 279.97,9.14 279.98,9.14 279.99,9.14 280.00,9.14 280.00,9.14 280.01,11.43 280.02,13.98 280.04,16.43 280.05,18.80 280.06,21.08 280.08,23.30 280.09,25.44 280.11,27.51 280.13,29.52 280.15,31.48 280.17,33.38 280.20,35.23 280.22,37.04 280.25,38.81 280.28,40.55 280.32,42.25 280.36,43.92 280.40,45.57 280.44,47.20 280.49,48.81 280.55,50.40 280.60,51.98 280.67,53.55 280.74,55.12 280.81,56.67 280.90,58.22 280.99,59.77 281.09,61.31 281.19,62.84 281.31,64.37 281.44,65.89 281.58,67.39 281.73,68.88 281.89,70.35 282.07,71.79 282.27,73.20 282.49,74.58 282.72,75.91 282.98,77.19 283.25,78.41 283.56,79.57 283.89,80.66 284.05,81.13 284.69,82.70 285.32,83.91 285.96,84.84 286.59,85.58 287.23,86.17 287.86,86.65 288.50,87.04 289.14,87.37 289.77,87.65 290.41,87.89 291.04,88.10 291.68,88.28 292.31,88.45 292.95,88.60 293.59,88.73 294.22,88.86 294.86,88.97 295.49,89.08 296.13,89.18 296.76,89.27 297.40,89.36 298.04,89.44 298.67,89.52 299.31,89.59 299.94,89.66 300.58,89.73 301.21,89.79 301.85,89.85 302.49,89.91 303.12,89.97 303.76,90.02 304.39,90.07 305.03,90.12 305.66,90.17 306.30,90.21 306.94,90.26 307.57,90.30 308.21,90.34 308.84,90.38 309.48,90.42 310.11,90.46 310.75,90.49 311.39,90.53 312.02,90.56 312.66,90.59 313.29,90.63 313.93,90.66 314.56,90.69 315.20,90.72 315.84,90.75 316.47,90.77 317.11,90.80 317.74,90.83 318.38,90.85 319.01,90.88 319.65,90.90 320.29,90.93 320.92,90.95 321.56,90.97 322.19,91.00 322.83,91.02 323.46,91.04 324.10,91.06 324.74,91.08 325.37,91.10 326.01,91.12 326.64,91.14 327.28,91.16 327.91,91.18 328.55,91.20 329.19,91.21 329.82,91.23 330.46,91.25 331.09,91.27 331.73,91.28 332.36,91.30 333.00,91.31 333.64,91.33 334.27,91.35 334.91,91.36 335.54,91.38 336.18,91.39 336.81,91.40 337.45,91.42 338.09,91.43 338.72,91.45 339.36,91.46 339.99,91.47 340.63,91.49 341.26,91.50 341.90,91.51 342.54,91.52 343.17,91.54 343.81,91.55 344.44,91.56 345.08,91.57 345.71,91.58 346.35,91.59 346.99,91.61 347.62,91.62 348.26,91.63 348.89,91.64 349.53,91.65 350.16,91.66 350.80,91.67 351.44,91.68 352.07,91.69 352.71,91.70 353.34,91.71 353.98,91.72 354.61,91.73 355.25,91.74 355.89,91.75 356.52,91.76 357.16,91.76 357.79,91.77 358.43,91.78 359.06,91.79 359.70,91.80 359.70,148.66 359.72,148.66 359.73,148.66 359.73,148.66 359.73,148.66 359.73,148.66 359.74,148.66 359.74,148.66 359.74,148.66 359.75,148.66 359.75,148.66 359.76,148.66 359.76,148.66 359.77,148.66 359.77,148.66 359.78,148.66 359.79,148.66 359.80,148.66 359.80,148.66 359.81,148.66 359.82,148.66 359.84,148.66 359.85,148.66 359.86,148.66 359.88,148.66 359.89,148.66 359.91,148.66 359.93,148.66 359.95,148.66 359.97,148.66 360.00,148.66 360.02,148.66 360.05,148.66 360.08,148.66 360.12,148.66 360.16,148.66 360.20,148.66 360.24,148.01 360.29,145.78 360.35,143.63 360.40,141.55 360.47,139.54 360.54,137.59 360.61,135.71 360.70,133.88 360.79,132.12 360.89,130.40 360.99,128.75 361.11,127.14 361.24,125.58 361.38,124.07 361.53,122.61 361.69,121.20 361.87,119.83 362.07,118.52 362.29,117.25 362.52,116.03 362.78,114.86 363.05,113.74 363.36,112.67 363.69,111.65 363.85,111.21 364.49,109.69 365.12,108.48 365.76,107.48 366.39,106.66 367.03,105.96 367.66,105.35 368.30,104.83 368.94,104.37 369.57,103.96 370.21,103.59 370.84,103.26 371.48,102.95 372.11,102.68 372.75,102.42 373.39,102.18 374.02,101.96 374.66,101.76 375.29,101.57 375.93,101.39 376.56,101.22 377.20,101.06 377.84,100.90 378.47,100.76 379.11,100.62 379.74,100.49 380.38,100.37 381.01,100.25 381.65,100.14 382.29,100.03 382.92,99.92 383.56,99.82 384.19,99.73 384.83,99.64 385.46,99.55 386.10,99.46 386.74,99.38 387.37,99.30 388.01,99.22 388.64,99.15 389.28,99.08 389.91,99.01 390.55,98.94 391.19,98.87 391.82,98.81 392.46,98.75 393.09,98.69 393.73,98.63 394.36,98.57 395.00,98.52 395.64,98.47 396.27,98.41 396.91,98.36 397.54,98.31 398.18,98.27 398.81,98.22 399.45,98.17 400.09,98.13 400.72,98.08 401.36,98.04 401.99,98.00 402.63,97.96 403.26,97.92 403.90,97.88 404.54,97.84 405.17,97.80 405.81,97.77 406.44,97.73 407.08,97.69 407.71,97.66 408.35,97.63 408.99,97.59 409.62,97.56 410.26,97.53 410.89,97.50 411.53,97.47 412.16,97.44 412.80,97.41 413.44,97.38 414.07,97.35 414.71,97.32 415.34,97.29 415.98,97.27 416.61,97.24 417.25,97.21 417.89,97.19 418.52,97.16 419.16,97.14 419.79,97.11 420.43,97.09 421.06,97.06 421.70,97.04 422.34,97.02 422.97,96.99 423.61,96.97 424.24,96.95 424.88,96.93 425.51,96.91 426.15,96.88 426.79,96.86 427.42,96.84 428.06,96.82 428.69,96.80 429.33,96.78 429.96,96.76 430.60,96.74 431.24,96.73 431.87,96.71 432.51,96.69 433.14,96.67 433.78,96.65 434.41,96.63 435.05,96.62 435.69,96.60 436.32,96.58 436.96,96.57 437.59,96.55 438.23,96.53 438.86,96.52 439.50,96.50 439.50,7.33" fill="none" stroke="#6eabd9" stroke-width="1.1" stroke-linejoin="round" stroke-linecap="round" />
<polyline points="279.90,99.74 279.90,9.14 279.92,9.14 279.93,9.14 279.93,9.14 279.93,9.14 279.93,9.14 279.94,9.14 279.94,9.14 279.94,9.14 279.95,9.14 279.95,9.14 279.96,9.14 279.96,9.14 279.97,9.14 279.97,9.14 279.98,9.14 279.99,9.14 280.00,9.14 280.00,9.14 280.01,9.14 280.02,9.14 280.04,9.14 280.05,9.14 280.06,10.61 280.08,13.36 280.09,16.02 280.11,18.59 280.13,21.08 280.15,23.49 280.17,25.82 280.20,28.10 280.22,30.30 280.25,32.46 280.28,34.56 280.32,36.61 280.36,38.62 280.40,40.59 280.44,42.52 280.49,44.43 280.55,46.30 280.60,48.16 280.67,49.99 280.74,51.80 280.81,53.59 280.90,55.37 280.99,57.13 281.09,58.88 281.19,60.62 281.31,62.33 281.44,64.03 281.58,65.71 281.73,67.37 281.89,69.00 282.07,70.60 282.27,72.15 282.49,73.67 282.72,75.13 282.98,76.54 283.25,77.89 283.56,79.17 283.89,80.37 284.05,80.89 284.69,82.64 285.32,83.98 285.96,85.04 286.59,85.87 287.23,86.55 287.86,87.10 288.50,87.57 289.14,87.96 289.77,88.29 290.41,88.58 291.04,88.84 291.68,89.06 292.31,89.27 292.95,89.45 293.59,89.62 294.22,89.78 294.86,89.92 295.49,90.05 296.13,90.18 296.76,90.30 297.40,90.41 298.04,90.51 298.67,90.61 299.31,90.70 299.94,90.79 300.58,90.87 301.21,90.95 301.85,91.03 302.49,91.11 303.12,91.18 303.76,91.24 304.39,91.31 305.03,91.37 305.66,91.43 306.30,91.49 306.94,91.55 307.57,91.60 308.21,91.65 308.84,91.70 309.48,91.75 310.11,91.80 310.75,91.84 311.39,91.89 312.02,91.93 312.66,91.97 313.29,92.01 313.93,92.05 314.56,92.09 315.20,92.13 315.84,92.17 316.47,92.20 317.11,92.24 317.74,92.27 318.38,92.30 319.01,92.33 319.65,92.37 320.29,92.40 320.92,92.43 321.56,92.45 322.19,92.48 322.83,92.51 323.46,92.54 324.10,92.56 324.74,92.59 325.37,92.62 326.01,92.64 326.64,92.67 327.28,92.69 327.91,92.71 328.55,92.74 329.19,92.76 329.82,92.78 330.46,92.80 331.09,92.82 331.73,92.84 332.36,92.86 333.00,92.89 333.64,92.90 334.27,92.92 334.91,92.94 335.54,92.96 336.18,92.98 336.81,93.00 337.45,93.02 338.09,93.03 338.72,93.05 339.36,93.07 339.99,93.09 340.63,93.10 341.26,93.12 341.90,93.13 342.54,93.15 343.17,93.17 343.81,93.18 344.44,93.20 345.08,93.21 345.71,93.22 346.35,93.24 346.99,93.25 347.62,93.27 348.26,93.28 348.89,93.29 349.53,93.31 350.16,93.32 350.80,93.33 351.44,93.35 352.07,93.36 352.71,93.37 353.34,93.38 353.98,93.40 354.61,93.41 355.25,93.42 355.89,93.43 356.52,93.44 357.16,93.46 357.79,93.47 358.43,93.48 359.06,93.49 359.70,93.50 359.70,148.66 359.72,148.66 359.73,148.66 359.73,148.66 359.73,148.66 359.73,148.66 359.74,148.66 359.74,148.66 359.74,148.66 359.75,148.66 359.75,148.66 359.76,148.66 359.76,148.66 359.77,148.66 359.77,148.66 359.78,148.66 359.79,148.66 359.80,148.66 359.80,148.66 359.81,148.66 359.82,148.66 359.84,148.66 359.85,148.66 359.86,148.66 359.88,148.66 359.89,148.66 359.91,148.66 359.93,148.66 359.95,148.66 359.97,148.66 360.00,148.66 360.02,148.66 360.05,148.66 360.08,148.66 360.12,148.66 360.16,148.66 360.20,148.66 360.24,148.66 360.29,148.66 360.35,148.66 360.40,148.66 360.47,148.66 360.54,148.66 360.61,148.66 360.70,146.40 360.79,144.13 360.89,141.93 360.99,139.79 361.11,137.72 361.24,135.70 361.38,133.74 361.53,131.85 361.69,130.01 361.87,128.23 362.07,126.51 362.29,124.85 362.52,123.26 362.78,121.73 363.05,120.27 363.36,118.87 363.69,117.55 363.85,116.97 364.49,115.00 365.12,113.42 365.76,112.14 366.39,111.07 367.03,110.18 367.66,109.41 368.30,108.74 368.94,108.16 369.57,107.64 370.21,107.17 370.84,106.75 371.48,106.37 372.11,106.03 372.75,105.70 373.39,105.41 374.02,105.13 374.66,104.87 375.29,104.63 375.93,104.41 376.56,104.20 377.20,103.99 377.84,103.81 378.47,103.62 379.11,103.45 379.74,103.29 380.38,103.14 381.01,102.99 381.65,102.85 382.29,102.71 382.92,102.58 383.56,102.46 384.19,102.34 384.83,102.22 385.46,102.11 386.10,102.00 386.74,101.90 387.37,101.80 388.01,101.70 388.64,101.61 389.28,101.52 389.91,101.43 390.55,101.35 391.19,101.27 391.82,101.19 392.46,101.11 393.09,101.04 393.73,100.96 394.36,100.89 395.00,100.82 395.64,100.76 396.27,100.69 396.91,100.63 397.54,100.57 398.18,100.51 398.81,100.45 399.45,100.39 400.09,100.33 400.72,100.28 401.36,100.23 401.99,100.17 402.63,100.12 403.26,100.07 403.90,100.02 404.54,99.98 405.17,99.93 405.81,99.88 406.44,99.84 407.08,99.79 407.71,99.75 408.35,99.71 408.99,99.67 409.62,99.63 410.26,99.59 410.89,99.55 411.53,99.51 412.16,99.47 412.80,99.43 413.44,99.40 414.07,99.36 414.71,99.33 415.34,99.29 415.98,99.26 416.61,99.22 417.25,99.19 417.89,99.16 418.52,99.13 419.16,99.09 419.79,99.06 420.43,99.03 421.06,99.00 421.70,98.97 422.34,98.95 422.97,98.92 423.61,98.89 424.24,98.86 424.88,98.83 425.51,98.81 426.15,98.78 426.79,98.75 427.42,98.73 428.06,98.70 428.69,98.68 429.33,98.65 429.96,98.63 430.60,98.61 431.24,98.58 431.87,98.56 432.51,98.54 433.14,98.51 433.78,98.49 434.41,98.47 435.05,98.45 435.69,98.42 436.32,98.40 436.96,98.38 437.59,98.36 438.23,98.34 438.86,98.32 439.50,98.30 439.50,7.33" fill="none" stroke="#4a8fcd" stroke-width="1.2" stroke-linejoin="round" stroke-linecap="round" />
<polyline points="279.90,99.74 279.90,9.14 279.92,9.14 279.93,9.14 279.93,9.14 279.93,9.14 279.93,9.14 279.94,9.14 279.94,9.14 279.94,9.14 279.95,9.14 279.95,9.14 279.96,9.14 279.96,9.14 279.97,9.14 279.97,9.14 279.98,9.14 279.99,9.14 280.00,9.14 280.00,9.14 280.01,9.14 280.02,9.14 280.04,9.14 280.05,9.14 280.06,9.14 280.08,9.14 280.09,9.14 280.11,9.14 280.13,9.14 280.15,9.14 280.17,9.14 280.20,9.14 280.22,9.14 280.25,9.14 280.28,9.14 280.32,9.14 280.36,9.14 280.40,9.14 280.44,9.14 280.49,9.14 280.55,12.47 280.60,15.94 280.67,19.32 280.74,22.61 280.81,25.82 280.90,28.95 280.99,32.02 281.09,35.01 281.19,37.94 281.31,40.80 281.44,43.59 281.58,46.32 281.73,48.97 281.89,51.56 282.07,54.08 282.27,56.52 282.49,58.88 282.72,61.15 282.98,63.33 283.25,65.41 283.56,67.40 283.89,69.28 284.05,70.10 284.69,72.88 285.32,75.07 285.96,76.83 286.59,78.28 287.23,79.48 287.86,80.49 288.50,81.36 289.14,82.12 289.77,82.78 290.41,83.37 291.04,83.90 291.68,84.38 292.31,84.81 292.95,85.21 293.59,85.58 294.22,85.92 294.86,86.24 295.49,86.53 296.13,86.81 296.76,87.07 297.40,87.32 298.04,87.55 298.67,87.77 299.31,87.98 299.94,88.18 300.58,88.37 301.21,88.55 301.85,88.73 302.49,88.89 303.12,89.05 303.76,89.21 304.39,89.35 305.03,89.49 305.66,89.63 306.30,89.76 306.94,89.89 307.57,90.01 308.21,90.13 308.84,90.24 309.48,90.35 310.11,90.46 310.75,90.56 311.39,90.66 312.02,90.76 312.66,90.85 313.29,90.95 313.93,91.03 314.56,91.12 315.20,91.21 315.84,91.29 316.47,91.37 317.11,91.45 317.74,91.52 318.38,91.60 319.01,91.67 319.65,91.74 320.29,91.81 320.92,91.87 321.56,91.94 322.19,92.00 322.83,92.07 323.46,92.13 324.10,92.19 324.74,92.25 325.37,92.30 326.01,92.36 326.64,92.42 327.28,92.47 327.91,92.52 328.55,92.57 329.19,92.63 329.82,92.68 330.46,92.72 331.09,92.77 331.73,92.82 332.36,92.87 333.00,92.91 333.64,92.96 334.27,93.00 334.91,93.04 335.54,93.09 336.18,93.13 336.81,93.17 337.45,93.21 338.09,93.25 338.72,93.29 339.36,93.33 339.99,93.36 340.63,93.40 341.26,93.44 341.90,93.47 342.54,93.51 343.17,93.54 343.81,93.58 344.44,93.61 345.08,93.65 345.71,93.68 346.35,93.71 346.99,93.74 347.62,93.77 348.26,93.81 348.89,93.84 349.53,93.87 350.16,93.90 350.80,93.93 351.44,93.95 352.07,93.98 352.71,94.01 353.34,94.04 353.98,94.07 354.61,94.09 355.25,94.12 355.89,94.15 356.52,94.17 357.16,94.20 357.79,94.23 358.43,94.25 359.06,94.28 359.70,94.30 359.70,148.66 359.72,148.66 359.73,148.66 359.73,148.66 359.73,148.66 359.73,148.66 359.74,148.66 359.74,148.66 359.74,148.66 359.75,148.66 359.75,148.66 359.76,148.66 359.76,148.66 359.77,148.66 359.77,148.66 359.78,148.66 359.79,148.66 359.80,148.66 359.80,148.66 359.81,148.66 359.82,148.66 359.84,148.66 359.85,148.66 359.86,148.66 359.88,148.66 359.89,148.66 359.91,148.66 359.93,148.66 359.95,148.66 359.97,148.66 360.00,148.66 360.02,148.66 360.05,148.66 360.08,148.66 360.12,148.66 360.16,148.66 360.20,148.66 360.24,148.66 360.29,148.66 360.35,148.66 360.40,148.66 360.47,148.66 360.54,148.66 360.61,148.66 360.70,148.66 360.79,148.66 360.89,148.66 360.99,148.66 361.11,148.19 361.24,145.72 361.38,143.31 361.53,140.98 361.69,138.72 361.87,136.52 362.07,134.40 362.29,132.36 362.52,130.39 362.78,128.51 363.05,126.70 363.36,124.98 363.69,123.34 363.85,122.63 364.49,120.20 365.12,118.26 365.76,116.69 366.39,115.39 367.03,114.30 367.66,113.36 368.30,112.55 368.94,111.85 369.57,111.22 370.21,110.66 370.84,110.15 371.48,109.69 372.11,109.27 372.75,108.89 373.39,108.53 374.02,108.20 374.66,107.89 375.29,107.60 375.93,107.33 376.56,107.08 377.20,106.83 377.84,106.61 378.47,106.39 379.11,106.18 379.74,105.99 380.38,105.80 381.01,105.63 381.65,105.46 382.29,105.29 382.92,105.14 383.56,104.99 384.19,104.84 384.83,104.71 385.46,104.57 386.10,104.44 386.74,104.32 387.37,104.20 388.01,104.09 388.64,103.97 389.28,103.87 389.91,103.76 390.55,103.66 391.19,103.56 391.82,103.47 392.46,103.37 393.09,103.28 393.73,103.20 394.36,103.11 395.00,103.03 395.64,102.95 396.27,102.87 396.91,102.79 397.54,102.72 398.18,102.65 398.81,102.58 399.45,102.51 400.09,102.44 400.72,102.38 401.36,102.31 401.99,102.25 402.63,102.19 403.26,102.13 403.90,102.07 404.54,102.01 405.17,101.95 405.81,101.90 406.44,101.84 407.08,101.79 407.71,101.74 408.35,101.69 408.99,101.64 409.62,101.59 410.26,101.54 410.89,101.50 411.53,101.45 412.16,101.40 412.80,101.36 413.44,101.32 414.07,101.27 414.71,101.23 415.34,101.19 415.98,101.15 416.61,101.11 417.25,101.07 417.89,101.03 418.52,100.99 419.16,100.95 419.79,100.92 420.43,100.88 421.06,100.84 421.70,100.81 422.34,100.77 422.97,100.74 423.61,100.71 424.24,100.67 424.88,100.64 425.51,100.61 426.15,100.58 426.79,100.55 427.42,100.51 428.06,100.48 428.69,100.45 429.33,100.42 429.96,100.40 430.60,100.37 431.24,100.34 431.87,100.31 432.51,100.28 433.14,100.25 433.78,100.23 434.41,100.20 435.05,100.18 435.69,100.15 436.32,100.12 436.96,100.10 437.59,100.07 438.23,100.05 438.86,100.02 439.50,100.00 439.50,7.33" fill="none" stroke="#2f7cc2" stroke-width="1.4" stroke-linejoin="round" stroke-linecap="round" />
<line x1="279.90" y1="9.14" x2="279.90" y2="99.74" stroke="#4f98d4" stroke-width="1.5" stroke-linecap="round"/>
<line x1="439.50" y1="7.33" x2="439.50" y2="99.74" stroke="#4f98d4" stroke-width="1.4" stroke-linecap="round"/>
</g>
<rect x="272.0" y="6.4" width="175.40" height="141.10" fill="none" stroke="#8c8c8c" stroke-width="1"/>
<line x1="268.50" y1="10.50" x2="272.00" y2="10.50" stroke="#8c8c8c" stroke-width="0.9" />
<text x="263.30" y="13.40" font-size="8.4" text-anchor="end">0.02</text>
<line x1="268.50" y1="55.80" x2="272.00" y2="55.80" stroke="#8c8c8c" stroke-width="0.9" />
<text x="263.30" y="58.70" font-size="8.4" text-anchor="end">0.01</text>
<line x1="268.50" y1="101.10" x2="272.00" y2="101.10" stroke="#8c8c8c" stroke-width="0.9" />
<text x="263.30" y="104.00" font-size="8.4" text-anchor="end">0</text>
<line x1="268.50" y1="146.40" x2="272.00" y2="146.40" stroke="#8c8c8c" stroke-width="0.9" />
<text x="263.30" y="149.30" font-size="8.4" text-anchor="end" textLength="18.60" lengthAdjust="spacingAndGlyphs">-0.01</text>
<line x1="279.90" y1="147.50" x2="279.90" y2="151.00" stroke="#8c8c8c" stroke-width="0.9" />
<text x="279.90" y="161.80" font-size="8.4" text-anchor="middle">0</text>
<line x1="319.80" y1="147.50" x2="319.80" y2="151.00" stroke="#8c8c8c" stroke-width="0.9" />
<text x="319.80" y="161.80" font-size="8.4" text-anchor="middle">5</text>
<line x1="359.70" y1="147.50" x2="359.70" y2="151.00" stroke="#8c8c8c" stroke-width="0.9" />
<text x="359.70" y="161.80" font-size="8.4" text-anchor="middle">10</text>
<line x1="399.60" y1="147.50" x2="399.60" y2="151.00" stroke="#8c8c8c" stroke-width="0.9" />
<text x="399.60" y="161.80" font-size="8.4" text-anchor="middle">15</text>
<line x1="439.50" y1="147.50" x2="439.50" y2="151.00" stroke="#8c8c8c" stroke-width="0.9" />
<text x="439.50" y="161.80" font-size="8.4" text-anchor="middle">20</text>
<text x="360.30" y="175.80" font-size="9.0" text-anchor="middle" textLength="31.70" lengthAdjust="spacingAndGlyphs">Time (s)</text>
<text transform="translate(238.50,76.15) rotate(-90)" font-size="9.0" text-anchor="middle" textLength="38.90" lengthAdjust="spacingAndGlyphs"><tspan font-style="italic">J</tspan> (A cm<tspan dy="-3.6" font-size="5.8">−2</tspan><tspan dy="3.6">)</tspan></text>
<line x1="383.30" y1="18.40" x2="404.20" y2="18.40" stroke="#b9d8ee" stroke-width="1.2" />
<text x="408.20" y="20.50" font-size="8.8" textLength="16.00" lengthAdjust="spacingAndGlyphs">1.2 V</text>
<line x1="383.30" y1="29.73" x2="404.20" y2="29.73" stroke="#9cc7e6" stroke-width="1.3" />
<text x="408.20" y="31.83" font-size="8.8" textLength="16.00" lengthAdjust="spacingAndGlyphs">1.3 V</text>
<line x1="383.30" y1="41.06" x2="404.20" y2="41.06" stroke="#6eabd9" stroke-width="1.4000000000000001" />
<text x="408.20" y="43.16" font-size="8.8" textLength="16.00" lengthAdjust="spacingAndGlyphs">1.4 V</text>
<line x1="383.30" y1="52.39" x2="404.20" y2="52.39" stroke="#4a8fcd" stroke-width="1.5" />
<text x="408.20" y="54.49" font-size="8.8" textLength="16.00" lengthAdjust="spacingAndGlyphs">1.5 V</text>
<line x1="383.30" y1="63.72" x2="404.20" y2="63.72" stroke="#2f7cc2" stroke-width="1.7" />
<text x="408.20" y="65.82" font-size="8.8" textLength="16.00" lengthAdjust="spacingAndGlyphs">1.6 V</text>
<clipPath id="cc"><rect x="504.0" y="6.4" width="177.60" height="143.00"/></clipPath>
<g clip-path="url(#cc)">
<polyline points="521.90,134.70 522.89,134.67 523.87,134.79 524.86,133.75 525.85,131.79 526.83,129.68 527.82,127.21 528.81,125.44 529.80,125.15 530.78,124.37 531.77,123.05 532.76,122.29 533.74,121.84 534.73,121.60 535.72,120.53 536.70,119.65 537.69,119.86 538.68,119.25 539.67,119.34 540.65,118.90 541.64,118.62 542.63,117.72 543.61,117.64 544.60,116.78 545.59,116.50 546.57,116.71 547.56,117.47 548.55,116.53 549.54,115.91 550.52,115.79 551.51,116.31 552.50,115.88 553.48,115.86 554.47,115.51 555.46,114.66 556.44,115.16 557.43,114.76 558.42,114.25 559.41,114.68 560.39,114.43 561.38,114.13 562.37,114.11 563.35,114.44 564.34,113.65 565.33,113.04 566.31,113.89 567.30,112.95 568.29,112.97 569.28,112.98 570.26,111.77 571.25,112.14 572.24,112.93 573.22,112.34 574.21,111.91 575.20,112.02 576.18,111.63 577.17,111.71 578.16,111.24 579.15,110.90 580.13,111.63 581.12,111.38 582.11,111.44 583.09,111.26 584.08,111.66 585.07,111.36 586.05,110.91 587.04,110.22 588.03,110.15 589.02,111.17 590.00,110.93 590.99,110.37 591.98,111.26 592.96,110.68 593.95,110.13 594.87,109.44 595.85,111.28 596.84,113.43 597.83,114.97 598.82,115.98 599.80,116.56 600.79,118.55 601.78,119.87 602.76,120.83 603.75,122.17 604.74,122.54 605.72,123.07 606.71,122.87 607.70,122.99 608.69,122.50 609.67,122.84 610.66,123.34 611.65,123.37 612.63,123.83 613.62,123.57 614.61,124.06 615.59,124.27 616.58,125.13 617.57,124.94 618.56,125.98 619.54,126.37 620.53,125.84 621.52,126.04 622.50,125.57 623.49,124.98 624.48,126.42 625.46,126.76 626.45,126.51 627.44,126.55 628.43,127.05 629.41,127.24 630.40,127.02 631.39,127.38 632.37,128.24 633.36,128.13 634.35,128.29 635.33,128.87 636.32,128.67 637.31,129.08 638.30,128.60 639.28,128.99 640.27,129.39 641.26,129.88 642.24,130.12 643.23,131.08 644.22,130.91 645.20,130.56 646.19,131.49 647.18,130.79 648.17,131.67 649.15,131.10 650.14,131.64 651.13,131.30 652.11,131.81 653.10,132.56 654.09,131.54 655.07,131.47 656.06,132.36 657.05,132.76 658.04,132.97 659.02,133.30 660.01,132.72 661.00,133.40 661.98,133.49" fill="none" stroke="#f18585" stroke-width="1.1" stroke-linejoin="round" stroke-linecap="round" />
<polyline points="521.90,134.70 522.89,134.83 523.87,134.98 524.86,132.65 525.85,129.61 526.83,125.09 527.82,122.21 528.81,121.03 529.80,119.64 530.78,118.59 531.77,117.45 532.76,116.80 533.74,116.21 534.73,116.02 535.72,114.87 536.70,113.11 537.69,113.50 538.68,113.28 539.67,112.02 540.65,111.27 541.64,112.22 542.63,111.67 543.61,111.64 544.60,111.78 545.59,110.46 546.57,110.35 547.56,110.26 548.55,110.30 549.54,109.62 550.52,109.71 551.51,109.47 552.50,109.69 553.48,109.31 554.47,107.93 555.46,108.28 556.44,107.87 557.43,107.78 558.42,107.83 559.41,107.59 560.39,106.93 561.38,107.11 562.37,106.95 563.35,106.55 564.34,105.82 565.33,105.83 566.31,106.01 567.30,106.49 568.29,106.63 569.28,105.36 570.26,105.10 571.25,105.49 572.24,105.12 573.22,104.81 574.21,104.66 575.20,104.68 576.18,105.09 577.17,104.44 578.16,105.36 579.15,104.52 580.13,104.36 581.12,104.01 582.11,103.41 583.09,103.74 584.08,105.17 585.07,105.41 586.05,104.30 587.04,104.81 588.03,104.34 589.02,104.01 590.00,105.24 590.99,105.46 591.98,104.26 592.96,104.11 593.95,104.23 594.87,104.20 595.85,106.66 596.84,108.90 597.83,110.24 598.82,112.41 599.80,114.44 600.79,115.27 601.78,117.10 602.76,118.90 603.75,121.25 604.74,121.42 605.72,121.70 606.71,121.71 607.70,121.39 608.69,121.81 609.67,121.47 610.66,121.32 611.65,120.97 612.63,122.48 613.62,121.92 614.61,122.32 615.59,122.71 616.58,123.50 617.57,123.16 618.56,122.66 619.54,123.14 620.53,123.39 621.52,123.60 622.50,123.21 623.49,124.12 624.48,125.43 625.46,125.23 626.45,126.08 627.44,126.79 628.43,125.49 629.41,124.54 630.40,125.35 631.39,126.31 632.37,126.29 633.36,125.48 634.35,125.97 635.33,126.35 636.32,126.61 637.31,126.69 638.30,126.51 639.28,126.87 640.27,127.50 641.26,128.31 642.24,128.04 643.23,128.58 644.22,128.32 645.20,129.52 646.19,129.46 647.18,129.69 648.17,130.31 649.15,129.16 650.14,129.45 651.13,130.63 652.11,130.52 653.10,131.18 654.09,132.72 655.07,131.82 656.06,131.89 657.05,132.22 658.04,132.96 659.02,132.90 660.01,132.84 661.00,132.45 661.98,133.02" fill="none" stroke="#ee7272" stroke-width="1.15" stroke-linejoin="round" stroke-linecap="round" />
<polyline points="521.90,134.70 522.89,134.51 523.87,134.78 524.86,132.94 525.85,129.27 526.83,122.17 527.82,117.78 528.81,115.91 529.80,114.56 530.78,113.61 531.77,112.60 532.76,111.92 533.74,111.06 534.73,109.88 535.72,108.24 536.70,107.85 537.69,107.61 538.68,107.30 539.67,106.52 540.65,104.89 541.64,104.86 542.63,104.91 543.61,104.94 544.60,104.97 545.59,104.04 546.57,103.22 547.56,103.52 548.55,103.28 549.54,102.93 550.52,102.67 551.51,103.18 552.50,102.43 553.48,102.16 554.47,101.19 555.46,101.52 556.44,100.58 557.43,99.85 558.42,100.57 559.41,100.61 560.39,99.94 561.38,99.79 562.37,99.92 563.35,98.71 564.34,97.61 565.33,98.41 566.31,98.45 567.30,98.45 568.29,97.66 569.28,98.08 570.26,97.60 571.25,96.20 572.24,96.65 573.22,95.47 574.21,94.89 575.20,95.31 576.18,94.91 577.17,94.12 578.16,95.03 579.15,95.41 580.13,95.53 581.12,94.45 582.11,93.32 583.09,93.49 584.08,94.46 585.07,94.43 586.05,93.95 587.04,93.34 588.03,93.32 589.02,92.98 590.00,92.81 590.99,92.97 591.98,92.74 592.96,92.48 593.95,92.43 594.87,91.86 595.85,93.22 596.84,95.91 597.83,99.02 598.82,102.64 599.80,104.15 600.79,106.28 601.78,107.09 602.76,106.84 603.75,107.86 604.74,109.68 605.72,111.63 606.71,112.19 607.70,113.15 608.69,113.29 609.67,112.91 610.66,114.46 611.65,115.79 612.63,116.46 613.62,116.34 614.61,116.85 615.59,117.73 616.58,117.73 617.57,118.48 618.56,117.80 619.54,117.97 620.53,118.59 621.52,119.79 622.50,119.92 623.49,120.63 624.48,121.29 625.46,121.84 626.45,122.83 627.44,123.18 628.43,122.46 629.41,123.04 630.40,123.17 631.39,123.35 632.37,125.06 633.36,125.07 634.35,124.72 635.33,124.91 636.32,125.50 637.31,125.23 638.30,126.04 639.28,127.25 640.27,127.37 641.26,126.70 642.24,127.29 643.23,128.62 644.22,127.45 645.20,127.71 646.19,127.90 647.18,129.12 648.17,129.70 649.15,130.02 650.14,128.63 651.13,129.80 652.11,129.68 653.10,130.93 654.09,131.25 655.07,132.32 656.06,131.92 657.05,131.53 658.04,132.64 659.02,131.95 660.01,132.54 661.00,133.64 661.98,133.71" fill="none" stroke="#ea5f5f" stroke-width="1.2" stroke-linejoin="round" stroke-linecap="round" />
<polyline points="521.90,134.70 522.89,134.74 523.87,134.91 524.86,132.53 525.85,128.77 526.83,125.08 527.82,120.92 528.81,116.08 529.80,112.35 530.78,111.00 531.77,108.26 532.76,106.56 533.74,104.83 534.73,102.23 535.72,100.96 536.70,98.68 537.69,98.26 538.68,96.57 539.67,95.58 540.65,94.56 541.64,92.64 542.63,91.58 543.61,90.09 544.60,89.39 545.59,88.92 546.57,87.46 547.56,86.26 548.55,85.19 549.54,85.46 550.52,84.78 551.51,84.82 552.50,83.26 553.48,83.62 554.47,83.59 555.46,81.98 556.44,80.92 557.43,81.90 558.42,81.49 559.41,80.81 560.39,80.34 561.38,79.15 562.37,79.23 563.35,78.72 564.34,77.63 565.33,77.71 566.31,76.91 567.30,77.25 568.29,77.26 569.28,76.79 570.26,74.45 571.25,74.86 572.24,74.46 573.22,74.17 574.21,73.74 575.20,73.18 576.18,72.07 577.17,73.36 578.16,73.64 579.15,73.02 580.13,72.48 581.12,70.81 582.11,70.31 583.09,71.05 584.08,71.00 585.07,69.74 586.05,68.64 587.04,70.15 588.03,68.39 589.02,68.21 590.00,66.93 590.99,67.40 591.98,66.88 592.96,66.98 593.95,66.00 594.87,64.07 595.85,70.14 596.84,76.92 597.83,85.02 598.82,93.30 599.80,97.81 600.79,98.41 601.78,99.41 602.76,100.58 603.75,102.10 604.74,102.59 605.72,103.27 606.71,103.38 607.70,104.12 608.69,106.37 609.67,107.60 610.66,107.97 611.65,108.89 612.63,109.62 613.62,110.00 614.61,110.96 615.59,110.81 616.58,111.65 617.57,112.24 618.56,113.19 619.54,114.24 620.53,114.99 621.52,115.25 622.50,115.87 623.49,116.08 624.48,116.94 625.46,118.26 626.45,118.36 627.44,119.58 628.43,119.89 629.41,120.23 630.40,121.41 631.39,120.69 632.37,120.80 633.36,121.42 634.35,122.02 635.33,122.51 636.32,123.18 637.31,123.26 638.30,123.66 639.28,123.96 640.27,124.98 641.26,124.75 642.24,125.14 643.23,125.85 644.22,126.43 645.20,126.63 646.19,128.09 647.18,127.57 648.17,127.90 649.15,128.25 650.14,128.68 651.13,129.63 652.11,129.76 653.10,129.54 654.09,129.94 655.07,130.70 656.06,131.89 657.05,131.12 658.04,130.83 659.02,131.31 660.01,132.42 661.00,133.67 661.98,132.84" fill="none" stroke="#e54c4c" stroke-width="1.25" stroke-linejoin="round" stroke-linecap="round" />
<polyline points="521.90,134.70 522.89,135.09 523.87,134.85 524.86,132.28 525.85,127.37 526.83,120.50 527.82,113.17 528.81,108.82 529.80,104.19 530.78,99.39 531.77,96.17 532.76,94.26 533.74,91.87 534.73,89.80 535.72,86.90 536.70,83.75 537.69,81.45 538.68,79.36 539.67,76.87 540.65,75.53 541.64,72.76 542.63,69.70 543.61,67.25 544.60,64.88 545.59,63.47 546.57,62.21 547.56,60.45 548.55,59.87 549.54,58.80 550.52,56.23 551.51,55.10 552.50,54.11 553.48,54.14 554.47,52.54 555.46,51.55 556.44,51.02 557.43,50.81 558.42,48.66 559.41,46.77 560.39,46.25 561.38,46.10 562.37,44.97 563.35,44.14 564.34,45.30 565.33,43.24 566.31,41.71 567.30,40.70 568.29,39.41 569.28,39.08 570.26,39.04 571.25,38.42 572.24,37.61 573.22,37.70 574.21,36.76 575.20,35.24 576.18,34.05 577.17,34.66 578.16,34.21 579.15,33.22 580.13,31.97 581.12,31.89 582.11,30.83 583.09,31.54 584.08,30.77 585.07,29.93 586.05,28.62 587.04,28.04 588.03,28.98 589.02,28.08 590.00,26.56 590.99,26.38 591.98,25.91 592.96,23.51 593.95,22.61 594.87,21.97 595.85,29.50 596.84,35.90 597.83,46.90 598.82,59.85 599.80,66.21 600.79,71.51 601.78,75.49 602.76,77.99 603.75,79.50 604.74,81.99 605.72,84.43 606.71,85.44 607.70,86.84 608.69,87.74 609.67,90.44 610.66,92.16 611.65,92.75 612.63,93.72 613.62,95.88 614.61,99.06 615.59,100.16 616.58,100.18 617.57,101.91 618.56,103.25 619.54,103.28 620.53,104.02 621.52,106.04 622.50,107.83 623.49,108.59 624.48,108.44 625.46,110.09 626.45,110.92 627.44,111.62 628.43,112.52 629.41,114.07 630.40,114.73 631.39,116.24 632.37,116.95 633.36,117.79 634.35,117.37 635.33,118.71 636.32,120.08 637.31,120.67 638.30,121.17 639.28,121.63 640.27,123.70 641.26,124.27 642.24,124.04 643.23,122.93 644.22,124.44 645.20,125.99 646.19,126.11 647.18,126.13 648.17,128.21 649.15,129.12 650.14,128.64 651.13,129.18 652.11,129.65 653.10,130.39 654.09,129.27 655.07,129.54 656.06,130.64 657.05,131.43 658.04,133.17 659.02,132.21 660.01,132.61 661.00,132.58 661.98,132.74" fill="none" stroke="#e03a3a" stroke-width="1.35" stroke-linejoin="round" stroke-linecap="round" />
</g>
<rect x="504.0" y="6.4" width="177.60" height="143.00" fill="none" stroke="#8c8c8c" stroke-width="1"/>
<line x1="500.50" y1="134.70" x2="504.00" y2="134.70" stroke="#8c8c8c" stroke-width="0.9" />
<text x="496.40" y="137.60" font-size="8.4" text-anchor="end">0</text>
<line x1="500.50" y1="106.10" x2="504.00" y2="106.10" stroke="#8c8c8c" stroke-width="0.9" />
<text x="496.40" y="109.00" font-size="8.4" text-anchor="end">0.01</text>
<line x1="500.50" y1="77.50" x2="504.00" y2="77.50" stroke="#8c8c8c" stroke-width="0.9" />
<text x="496.40" y="80.40" font-size="8.4" text-anchor="end">0.02</text>
<line x1="500.50" y1="48.90" x2="504.00" y2="48.90" stroke="#8c8c8c" stroke-width="0.9" />
<text x="496.40" y="51.80" font-size="8.4" text-anchor="end">0.03</text>
<line x1="500.50" y1="20.30" x2="504.00" y2="20.30" stroke="#8c8c8c" stroke-width="0.9" />
<text x="496.40" y="23.20" font-size="8.4" text-anchor="end">0.04</text>
<line x1="521.90" y1="149.40" x2="521.90" y2="152.90" stroke="#8c8c8c" stroke-width="0.9" />
<text x="521.90" y="162.60" font-size="8.4" text-anchor="middle">0</text>
<line x1="557.15" y1="149.40" x2="557.15" y2="152.90" stroke="#8c8c8c" stroke-width="0.9" />
<text x="557.15" y="162.60" font-size="8.4" text-anchor="middle">5</text>
<line x1="592.40" y1="149.40" x2="592.40" y2="152.90" stroke="#8c8c8c" stroke-width="0.9" />
<text x="592.40" y="162.60" font-size="8.4" text-anchor="middle">10</text>
<line x1="627.65" y1="149.40" x2="627.65" y2="152.90" stroke="#8c8c8c" stroke-width="0.9" />
<text x="627.65" y="162.60" font-size="8.4" text-anchor="middle">15</text>
<line x1="662.90" y1="149.40" x2="662.90" y2="152.90" stroke="#8c8c8c" stroke-width="0.9" />
<text x="662.90" y="162.60" font-size="8.4" text-anchor="middle">20</text>
<text x="592.90" y="175.80" font-size="9.0" text-anchor="middle" textLength="31.40" lengthAdjust="spacingAndGlyphs">Time (s)</text>
<text transform="translate(473.30,76.45) rotate(-90)" font-size="9.0" text-anchor="middle" textLength="70.90" lengthAdjust="spacingAndGlyphs">Absorbance (OD)</text>
<line x1="629.00" y1="18.40" x2="649.90" y2="18.40" stroke="#f18585" stroke-width="1.4000000000000001" />
<text x="653.90" y="21.10" font-size="8.8" textLength="16.50" lengthAdjust="spacingAndGlyphs">1.2 V</text>
<line x1="629.00" y1="29.93" x2="649.90" y2="29.93" stroke="#ee7272" stroke-width="1.45" />
<text x="653.90" y="32.63" font-size="8.8" textLength="16.50" lengthAdjust="spacingAndGlyphs">1.3 V</text>
<line x1="629.00" y1="41.46" x2="649.90" y2="41.46" stroke="#ea5f5f" stroke-width="1.5" />
<text x="653.90" y="44.16" font-size="8.8" textLength="16.50" lengthAdjust="spacingAndGlyphs">1.4 V</text>
<line x1="629.00" y1="52.99" x2="649.90" y2="52.99" stroke="#e54c4c" stroke-width="1.55" />
<text x="653.90" y="55.69" font-size="8.8" textLength="16.50" lengthAdjust="spacingAndGlyphs">1.5 V</text>
<line x1="629.00" y1="64.52" x2="649.90" y2="64.52" stroke="#e03a3a" stroke-width="1.6500000000000001" />
<text x="653.90" y="67.22" font-size="8.8" textLength="16.50" lengthAdjust="spacingAndGlyphs">1.6 V</text>
<rect x="34.5" y="194.5" width="172.00" height="138.00" fill="none" stroke="#8c8c8c" stroke-width="1"/>
<line x1="31.90" y1="332.30" x2="34.50" y2="332.30" stroke="#8c8c8c" stroke-width="0.9" />
<text x="28.10" y="334.20" font-size="7.2" text-anchor="end">0</text>
<line x1="31.90" y1="300.50" x2="34.50" y2="300.50" stroke="#8c8c8c" stroke-width="0.9" />
<text x="28.10" y="302.40" font-size="7.2" text-anchor="end">3</text>
<line x1="31.90" y1="268.70" x2="34.50" y2="268.70" stroke="#8c8c8c" stroke-width="0.9" />
<text x="28.10" y="270.60" font-size="7.2" text-anchor="end">6</text>
<line x1="31.90" y1="236.90" x2="34.50" y2="236.90" stroke="#8c8c8c" stroke-width="0.9" />
<text x="28.10" y="238.80" font-size="7.2" text-anchor="end">9</text>
<line x1="31.90" y1="205.10" x2="34.50" y2="205.10" stroke="#8c8c8c" stroke-width="0.9" />
<text x="28.10" y="207.00" font-size="7.2" text-anchor="end">12</text>
<line x1="57.50" y1="332.50" x2="57.50" y2="335.30" stroke="#8c8c8c" stroke-width="0.9" />
<text x="57.50" y="344.70" font-size="7.8" text-anchor="middle">0.01</text>
<line x1="103.05" y1="332.50" x2="103.05" y2="335.30" stroke="#8c8c8c" stroke-width="0.9" />
<text x="103.05" y="344.70" font-size="7.8" text-anchor="middle">0.02</text>
<line x1="148.60" y1="332.50" x2="148.60" y2="335.30" stroke="#8c8c8c" stroke-width="0.9" />
<text x="148.60" y="344.70" font-size="7.8" text-anchor="middle">0.03</text>
<line x1="194.15" y1="332.50" x2="194.15" y2="335.30" stroke="#8c8c8c" stroke-width="0.9" />
<text x="194.15" y="344.70" font-size="7.8" text-anchor="middle">0.04</text>
<text x="120.65" y="358.60" font-size="9.0" text-anchor="middle" textLength="69.90" lengthAdjust="spacingAndGlyphs">Absorbance (OD)</text>
<text transform="translate(11.20,262.70) rotate(-90)" font-size="9.0" text-anchor="middle" textLength="51.00" lengthAdjust="spacingAndGlyphs"><tspan font-style="italic">Q</tspan> (mC cm<tspan dy="-3.2" font-size="5.8">−2</tspan><tspan dy="3.2">)</tspan></text>
<rect x="44.10" y="314.80" width="6.2" height="6.2" fill="#7e7e7e"/>
<rect x="56.30" y="304.70" width="6.2" height="6.2" fill="#7e7e7e"/>
<rect x="76.60" y="286.70" width="6.2" height="6.2" fill="#7e7e7e"/>
<rect x="118.90" y="253.10" width="6.2" height="6.2" fill="#7e7e7e"/>
<rect x="184.40" y="205.90" width="6.2" height="6.2" fill="#7e7e7e"/>
<line x1="47.20" y1="316.50" x2="187.50" y2="207.20" stroke="#f04848" stroke-width="1.1" />
<text x="47.90" y="244.00" font-size="7.6" textLength="64.50" lengthAdjust="spacingAndGlyphs"><tspan font-style="italic">y</tspan> = −1.1 + 334.9<tspan font-style="italic">x</tspan></text>
<rect x="270.5" y="195.5" width="174.00" height="140.00" fill="none" stroke="#8c8c8c" stroke-width="1"/>
<line x1="266.50" y1="335.00" x2="270.50" y2="335.00" stroke="#8c8c8c" stroke-width="0.9" />
<text x="263.20" y="337.60" font-size="8.4" text-anchor="end">0</text>
<line x1="266.50" y1="302.81" x2="270.50" y2="302.81" stroke="#8c8c8c" stroke-width="0.9" />
<text x="263.20" y="305.41" font-size="8.4" text-anchor="end">3</text>
<line x1="266.50" y1="270.62" x2="270.50" y2="270.62" stroke="#8c8c8c" stroke-width="0.9" />
<text x="263.20" y="273.22" font-size="8.4" text-anchor="end">6</text>
<line x1="266.50" y1="238.43" x2="270.50" y2="238.43" stroke="#8c8c8c" stroke-width="0.9" />
<text x="263.20" y="241.03" font-size="8.4" text-anchor="end">9</text>
<line x1="266.50" y1="206.24" x2="270.50" y2="206.24" stroke="#8c8c8c" stroke-width="0.9" />
<text x="263.20" y="208.84" font-size="8.4" text-anchor="end">12</text>
<line x1="284.10" y1="335.50" x2="284.10" y2="339.50" stroke="#8c8c8c" stroke-width="0.9" />
<text x="284.10" y="349.00" font-size="7.4" text-anchor="middle">1.2</text>
<line x1="313.50" y1="335.50" x2="313.50" y2="339.50" stroke="#8c8c8c" stroke-width="0.9" />
<text x="313.50" y="349.00" font-size="7.4" text-anchor="middle">1.3</text>
<line x1="342.90" y1="335.50" x2="342.90" y2="339.50" stroke="#8c8c8c" stroke-width="0.9" />
<text x="342.90" y="349.00" font-size="7.4" text-anchor="middle">1.4</text>
<line x1="372.30" y1="335.50" x2="372.30" y2="339.50" stroke="#8c8c8c" stroke-width="0.9" />
<text x="372.30" y="349.00" font-size="7.4" text-anchor="middle">1.5</text>
<line x1="401.70" y1="335.50" x2="401.70" y2="339.50" stroke="#8c8c8c" stroke-width="0.9" />
<text x="401.70" y="349.00" font-size="7.4" text-anchor="middle">1.6</text>
<line x1="431.10" y1="335.50" x2="431.10" y2="339.50" stroke="#8c8c8c" stroke-width="0.9" />
<text x="431.10" y="349.00" font-size="7.4" text-anchor="middle">1.7</text>
<text x="357.55" y="362.00" font-size="8.4" text-anchor="middle" textLength="65.70" lengthAdjust="spacingAndGlyphs"><tspan font-style="italic">E</tspan> (V versus RHE)</text>
<text transform="translate(248.10,264.90) rotate(-90)" font-size="9.0" text-anchor="middle" textLength="50.40" lengthAdjust="spacingAndGlyphs"><tspan font-style="italic">Q</tspan> (mC cm<tspan dy="-3.2" font-size="5.8">−2</tspan><tspan dy="3.2">)</tspan></text>
<polyline points="284.10,319.49 286.09,319.03 288.09,318.54 290.08,318.04 292.07,317.51 294.07,316.95 296.06,316.37 298.05,315.77 300.05,315.13 302.04,314.47 304.03,313.78 306.03,313.06 308.02,312.30 310.01,311.52 312.01,310.70 314.00,309.84 315.99,308.94 317.98,308.01 319.98,307.04 321.97,306.02 323.96,304.97 325.96,303.86 327.95,302.72 329.94,301.52 331.94,300.27 333.93,298.98 335.92,297.63 337.92,296.22 339.91,294.76 341.90,293.24 343.90,291.66 345.89,290.01 347.88,288.30 349.88,286.53 351.87,284.68 353.86,282.76 355.86,280.77 357.85,278.70 359.84,276.56 361.84,274.33 363.83,272.02 365.82,269.62 367.82,267.13 369.81,264.55 371.80,261.88 373.79,259.11 375.79,256.24 377.78,253.26 379.77,250.18 381.77,246.99 383.76,243.69 385.75,240.27 387.75,236.73 389.74,233.07 391.73,229.29 393.73,225.37 395.72,221.33 397.71,217.14 399.71,212.82 401.70,208.36" fill="none" stroke="#e03a32" stroke-width="1.1" stroke-linejoin="round" stroke-linecap="round" />
<polyline points="313.50,325.99 342.90,325.88 372.30,325.56 401.70,322.66 431.10,319.76" fill="none" stroke="#4a7cc4" stroke-width="1.1" stroke-linejoin="round" stroke-linecap="round" />
<circle cx="284.10" cy="319.55" r="3.4" fill="#d8282a"/>
<circle cx="313.50" cy="309.68" r="3.4" fill="#d8282a"/>
<circle cx="342.90" cy="293.26" r="3.4" fill="#d8282a"/>
<circle cx="372.30" cy="260.53" r="3.4" fill="#d8282a"/>
<circle cx="401.70" cy="208.49" r="3.4" fill="#d8282a"/>
<circle cx="313.50" cy="325.99" r="3.4" fill="#4272c0"/>
<circle cx="342.90" cy="325.88" r="3.4" fill="#4272c0"/>
<circle cx="372.30" cy="325.56" r="3.4" fill="#4272c0"/>
<circle cx="401.70" cy="322.66" r="3.4" fill="#4272c0"/>
<circle cx="431.10" cy="319.76" r="3.4" fill="#4272c0"/>
<line x1="275.80" y1="206.10" x2="280.70" y2="206.10" stroke="#ee6b6b" stroke-width="1.1" />
<line x1="292.20" y1="206.10" x2="296.90" y2="206.10" stroke="#ee6b6b" stroke-width="1.1" />
<circle cx="286.4" cy="206.1" r="3.5" fill="#d8282a"/>
<line x1="275.80" y1="219.30" x2="280.70" y2="219.30" stroke="#7ea3d8" stroke-width="1.1" />
<line x1="292.20" y1="219.30" x2="296.90" y2="219.30" stroke="#7ea3d8" stroke-width="1.1" />
<circle cx="286.4" cy="219.3" r="3.5" fill="#4272c0"/>
<text x="301.00" y="209.40" font-size="8.8" textLength="42.00" lengthAdjust="spacingAndGlyphs">CeO<tspan dy="2.2" font-size="6">2</tspan><tspan dy="-2.2">–IrO</tspan><tspan dy="2.2" font-size="6">2</tspan></text>
<text x="301.00" y="222.60" font-size="8.8" textLength="15.60" lengthAdjust="spacingAndGlyphs">IrO<tspan dy="2.2" font-size="6">2</tspan></text>
<rect x="505.4" y="195.4" width="178.60" height="144.40" fill="none" stroke="#8c8c8c" stroke-width="1"/>
<line x1="501.40" y1="319.00" x2="505.40" y2="319.00" stroke="#8c8c8c" stroke-width="0.9" />
<text x="497.10" y="321.90" font-size="8.4" text-anchor="end">0</text>
<line x1="501.40" y1="277.70" x2="505.40" y2="277.70" stroke="#8c8c8c" stroke-width="0.9" />
<text x="497.10" y="280.60" font-size="8.4" text-anchor="end">5</text>
<line x1="501.40" y1="236.40" x2="505.40" y2="236.40" stroke="#8c8c8c" stroke-width="0.9" />
<text x="497.10" y="239.30" font-size="8.4" text-anchor="end">10</text>
<line x1="501.40" y1="195.10" x2="505.40" y2="195.10" stroke="#8c8c8c" stroke-width="0.9" />
<text x="497.10" y="198.00" font-size="8.4" text-anchor="end">15</text>
<line x1="523.30" y1="339.80" x2="523.30" y2="343.30" stroke="#8c8c8c" stroke-width="0.9" />
<text x="523.30" y="353.60" font-size="8.4" text-anchor="middle">0</text>
<line x1="559.20" y1="339.80" x2="559.20" y2="343.30" stroke="#8c8c8c" stroke-width="0.9" />
<text x="559.20" y="353.60" font-size="8.4" text-anchor="middle">5</text>
<line x1="595.10" y1="339.80" x2="595.10" y2="343.30" stroke="#8c8c8c" stroke-width="0.9" />
<text x="595.10" y="353.60" font-size="8.4" text-anchor="middle">10</text>
<line x1="631.00" y1="339.80" x2="631.00" y2="343.30" stroke="#8c8c8c" stroke-width="0.9" />
<text x="631.00" y="353.60" font-size="8.4" text-anchor="middle">15</text>
<line x1="666.90" y1="339.80" x2="666.90" y2="343.30" stroke="#8c8c8c" stroke-width="0.9" />
<text x="666.90" y="353.60" font-size="8.4" text-anchor="middle">20</text>
<text x="594.95" y="366.50" font-size="9.0" text-anchor="middle" textLength="31.70" lengthAdjust="spacingAndGlyphs">Time (s)</text>
<text transform="translate(481.40,267.25) rotate(-90)" font-size="9.0" text-anchor="middle" textLength="52.10" lengthAdjust="spacingAndGlyphs"><tspan font-style="italic">Q</tspan> (mC cm<tspan dy="-3.2" font-size="5.8">−2</tspan><tspan dy="3.2">)</tspan></text>
<clipPath id="cf"><rect x="505.4" y="195.4" width="178.60" height="144.40"/></clipPath>
<g clip-path="url(#cf)">
<polyline points="521.40,313.34 522.70,313.69 524.00,313.60 525.30,312.67 526.60,312.06 527.90,312.09 529.20,312.05 530.50,311.67 531.80,311.56 533.10,311.56 534.40,311.27 535.70,311.11 537.00,310.93 538.30,310.53 539.60,310.55 540.90,310.95 542.20,311.14 543.50,310.80 544.80,310.38 546.10,310.71 547.40,311.25 548.70,311.27 550.00,310.93 551.30,310.82 552.60,310.97 553.90,310.75 555.20,310.44 556.50,310.80 557.80,311.35 559.10,311.46 560.40,311.30 561.70,311.14 563.00,311.06 564.30,310.85 565.60,311.12 566.90,311.70 568.20,311.36 569.50,310.76 570.80,310.73 572.10,311.02 573.40,311.07 574.70,310.48 576.00,310.04 577.30,310.31 578.60,310.61 579.90,310.83 581.20,311.04 582.50,310.98 583.80,310.67 585.10,310.45 586.40,310.91 587.70,311.36 589.00,311.05 590.30,310.66 591.60,310.78 592.90,310.83 594.20,310.36 595.50,310.26 596.80,310.58 598.10,310.56 599.40,310.34 600.70,310.35 602.00,310.45 603.30,310.56 604.60,310.51 605.90,310.45 607.20,310.88 608.50,311.15 609.80,310.95 611.10,311.14 612.40,311.38 613.70,311.29 615.00,311.34 616.30,311.52 617.60,312.20 618.90,312.88 620.20,312.67 621.50,312.13 622.80,312.03 624.10,312.02 625.40,312.17 626.70,312.21 628.00,311.96 629.30,312.11 630.60,312.39 631.90,312.52 633.20,312.28 634.50,312.01 635.80,312.28 637.10,312.49 638.40,312.45 639.70,312.37 641.00,311.90 642.30,311.73 643.60,312.37 644.90,312.69 646.20,312.48 647.50,312.53 648.80,312.59 650.10,312.25 651.40,312.03 652.70,312.36 654.00,312.47 655.30,312.30 656.60,312.42 657.90,312.19 659.20,312.13 660.50,312.57 661.80,312.35 663.10,311.93 664.40,312.23 665.70,312.80 667.00,312.90" fill="none" stroke="#4a7cc4" stroke-width="1.1" stroke-linejoin="round" stroke-linecap="round" />
<polyline points="523.70,327.56 525.00,327.92 526.30,322.16 527.60,312.44 528.90,303.77 530.20,297.31 531.50,292.49 532.80,286.48 534.10,286.32 535.40,283.01 536.70,280.98 538.00,278.40 539.30,273.85 540.60,269.38 541.90,266.91 543.20,263.58 544.50,260.97 545.80,259.02 547.10,255.43 548.40,254.94 549.70,251.51 551.00,250.72 552.30,249.26 553.60,247.95 554.90,246.94 556.20,245.49 557.50,244.57 558.80,242.96 560.10,243.25 561.40,243.73 562.70,243.15 564.00,242.00 565.30,240.89 566.60,239.24 567.90,239.97 569.20,238.13 570.50,237.34 571.80,236.40 573.10,235.89 574.40,234.89 575.70,234.53 577.00,233.23 578.30,233.13 579.60,234.38 580.90,232.07 582.20,231.25 583.50,231.10 584.80,230.52 586.10,228.51 587.40,228.35 588.70,228.35 590.00,227.10 591.30,226.16 592.60,226.20 593.90,223.66 595.20,223.23 596.50,221.72 597.80,221.76 599.10,228.80 600.00,238.53 601.30,249.82 602.60,255.81 603.90,260.92 605.20,267.36 606.50,270.53 607.80,276.39 609.10,279.07 610.40,281.70 611.70,285.05 613.00,286.21 614.30,287.57 615.60,290.86 616.90,292.17 618.20,294.83 619.50,297.40 620.80,299.22 622.10,301.97 623.40,302.40 624.70,303.12 626.00,305.33 627.30,306.80 628.60,308.12 629.90,310.82 631.20,311.29 632.50,311.41 633.80,314.32 635.10,314.74 636.40,315.98 637.70,316.71 639.00,317.91 640.30,318.19 641.60,319.72 642.90,319.85 644.20,320.52 645.50,321.16 646.80,320.47 648.10,322.00 649.40,322.55 650.70,323.50 652.00,322.86 653.30,325.39 654.60,324.76 655.90,324.28 657.20,324.35 658.50,325.64 659.80,326.07 661.10,325.92 662.40,326.83 663.70,326.65 665.00,327.82 666.30,327.27" fill="none" stroke="#e03a36" stroke-width="1.2" stroke-linejoin="round" stroke-linecap="round" />
<line x1="525.30" y1="328.50" x2="542.60" y2="243.20" stroke="#444" stroke-width="0.8" stroke-dasharray="2.2 1.6"/>
<line x1="521.40" y1="313.20" x2="573.00" y2="303.30" stroke="#444" stroke-width="0.8" stroke-dasharray="2.2 1.6"/>
</g>
<line x1="610.90" y1="207.40" x2="631.60" y2="207.40" stroke="#e03a36" stroke-width="1.2" />
<line x1="610.90" y1="221.30" x2="631.60" y2="221.30" stroke="#4a7cc4" stroke-width="1.2" />
<text x="636.20" y="210.90" font-size="8.8" textLength="42.20" lengthAdjust="spacingAndGlyphs">CeO<tspan dy="2.2" font-size="6">2</tspan><tspan dy="-2.2">–IrO</tspan><tspan dy="2.2" font-size="6">2</tspan></text>
<text x="636.20" y="224.80" font-size="8.8" textLength="15.70" lengthAdjust="spacingAndGlyphs">IrO<tspan dy="2.2" font-size="6">2</tspan></text>
<text x="516.00" y="236.20" font-size="7.2" textLength="52.20" lengthAdjust="spacingAndGlyphs">4.3 mC cm<tspan dy="-3" font-size="4.6">−2</tspan><tspan dy="3"> s</tspan><tspan dy="-3" font-size="4.6">−1</tspan></text>
<text x="541.80" y="299.30" font-size="7.2" textLength="55.10" lengthAdjust="spacingAndGlyphs">0.15 mC cm<tspan dy="-3" font-size="4.6">−2</tspan><tspan dy="3"> s</tspan><tspan dy="-3" font-size="4.6">−1</tspan></text>
</g>
</svg>
</body></html>
